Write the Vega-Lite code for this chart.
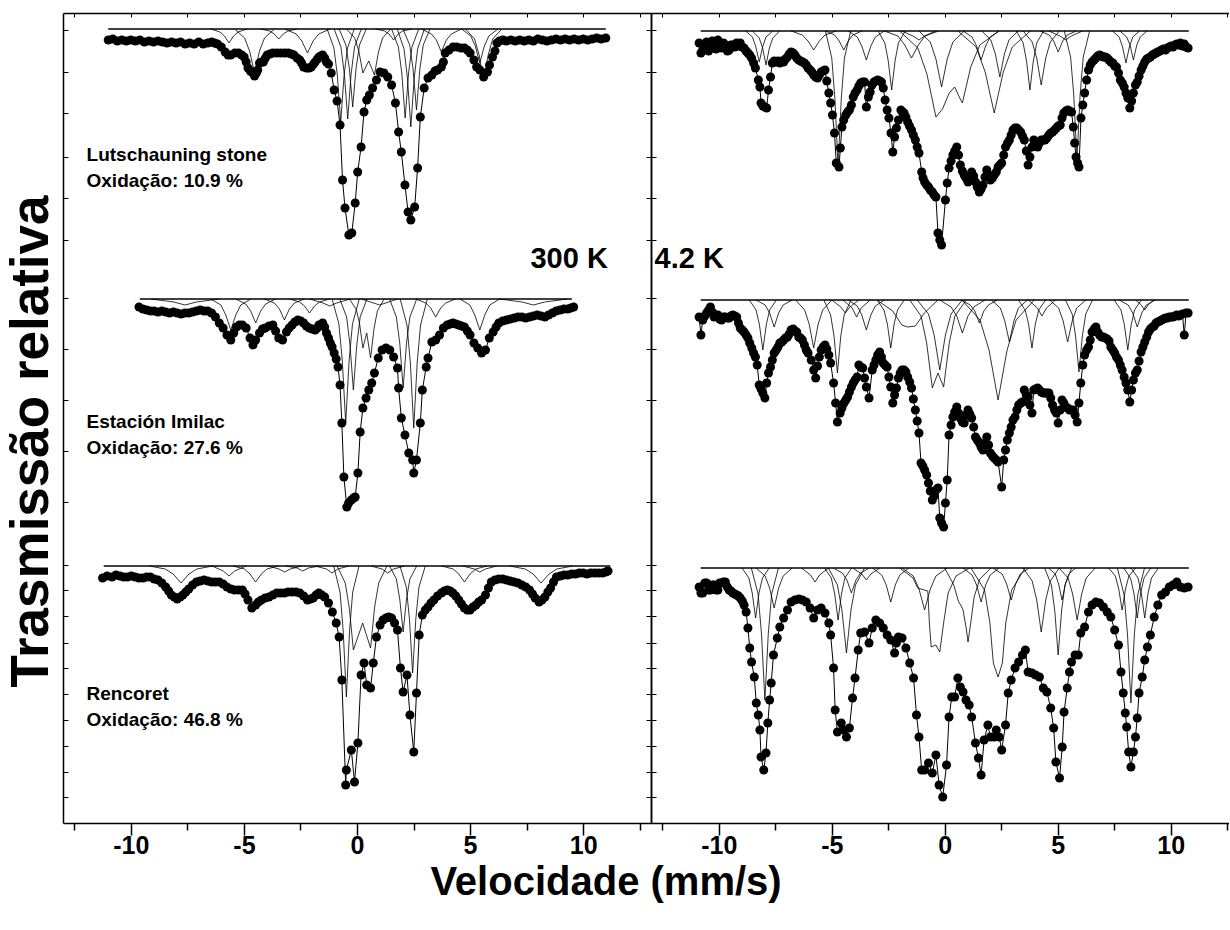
{
"$schema":"https://vega.github.io/schema/vega-lite/v6.json",
"background":"white",
"padding":{"left":4,"top":12,"right":0,"bottom":0},
"config":{"view":{"stroke":null},"axis":{"grid":false}},
"title":{"text":"Velocidade (mm/s)","orient":"bottom","anchor":"middle","fontSize":40,"font":"Liberation Sans","fontWeight":"bold","color":"black","offset":5,"dx":-11},
"spacing":0,
"bounds":"flush",
"datasets":{
"base":[
{"s":"L1","v":-11,"y":794},{"s":"L1","v":11,"y":794},
{"s":"L2","v":-9.6,"y":524},{"s":"L2","v":9.5,"y":524},
{"s":"L3","v":-11.2,"y":257},{"s":"L3","v":11.2,"y":257},
{"s":"R1","v":-10.8,"y":792},{"s":"R1","v":10.8,"y":792},
{"s":"R2","v":-10.8,"y":523},{"s":"R2","v":10.8,"y":523},
{"s":"R3","v":-10.8,"y":255},{"s":"R3","v":10.8,"y":255}
],
"labels":[
{"p":"L","k":"n","v":-11.96,"y":662,"t":"Lutschauning stone"},
{"p":"L","k":"n","v":-11.96,"y":636,"t":"Oxidação: 10.9 %"},
{"p":"L","k":"n","v":-11.96,"y":395,"t":"Estación Imilac"},
{"p":"L","k":"n","v":-11.96,"y":369,"t":"Oxidação: 27.6 %"},
{"p":"L","k":"n","v":-11.96,"y":123,"t":"Rencoret"},
{"p":"L","k":"n","v":-11.96,"y":97,"t":"Oxidação: 46.8 %"},
{"p":"L","k":"t","v":7.67,"y":555,"t":"300 K"},
{"p":"R","k":"t","v":-12.84,"y":555,"t":"4.2 K"}
],
"dots":[
{"s":"L1","v":-11,"y":783},{"s":"L1","v":-10.8,"y":784},{"s":"L1","v":-10.6,"y":782},{"s":"L1","v":-10.4,"y":783},{"s":"L1","v":-10.2,"y":782},{"s":"L1","v":-10,"y":783},{"s":"L1","v":-9.8,"y":782},{"s":"L1","v":-9.6,"y":783},{"s":"L1","v":-9.4,"y":781},{"s":"L1","v":-9.2,"y":782},{"s":"L1","v":-9,"y":781},{"s":"L1","v":-8.8,"y":782},{"s":"L1","v":-8.6,"y":781},{"s":"L1","v":-8.4,"y":780},{"s":"L1","v":-8.2,"y":781},{"s":"L1","v":-8,"y":780},{"s":"L1","v":-7.8,"y":781},{"s":"L1","v":-7.6,"y":779},{"s":"L1","v":-7.4,"y":780},{"s":"L1","v":-7.2,"y":779},{"s":"L1","v":-7,"y":781},{"s":"L1","v":-6.8,"y":779},{"s":"L1","v":-6.6,"y":780},{"s":"L1","v":-6.43,"y":781},{"s":"L1","v":-6.3,"y":780},{"s":"L1","v":-6.17,"y":779},{"s":"L1","v":-6,"y":776},{"s":"L1","v":-5.83,"y":771},{"s":"L1","v":-5.7,"y":768},{"s":"L1","v":-5.58,"y":768},{"s":"L1","v":-5.4,"y":770},{"s":"L1","v":-5.24,"y":770},{"s":"L1","v":-5.1,"y":768},{"s":"L1","v":-4.99,"y":766},{"s":"L1","v":-4.9,"y":761},{"s":"L1","v":-4.82,"y":755},{"s":"L1","v":-4.72,"y":752},{"s":"L1","v":-4.65,"y":751},{"s":"L1","v":-4.53,"y":747},{"s":"L1","v":-4.45,"y":750},{"s":"L1","v":-4.39,"y":753},{"s":"L1","v":-4.31,"y":760},{"s":"L1","v":-4.22,"y":761},{"s":"L1","v":-4.14,"y":761},{"s":"L1","v":-4.05,"y":765},{"s":"L1","v":-3.97,"y":768},{"s":"L1","v":-3.85,"y":769},{"s":"L1","v":-3.72,"y":770},{"s":"L1","v":-3.55,"y":770},{"s":"L1","v":-3.38,"y":770},{"s":"L1","v":-3.2,"y":770},{"s":"L1","v":-3.04,"y":770},{"s":"L1","v":-2.9,"y":769},{"s":"L1","v":-2.79,"y":768},{"s":"L1","v":-2.65,"y":765},{"s":"L1","v":-2.53,"y":763},{"s":"L1","v":-2.45,"y":760},{"s":"L1","v":-2.36,"y":756},{"s":"L1","v":-2.23,"y":755},{"s":"L1","v":-2.12,"y":755},{"s":"L1","v":-2.02,"y":756},{"s":"L1","v":-1.92,"y":759},{"s":"L1","v":-1.85,"y":761},{"s":"L1","v":-1.75,"y":764},{"s":"L1","v":-1.68,"y":766},{"s":"L1","v":-1.6,"y":767},{"s":"L1","v":-1.52,"y":768},{"s":"L1","v":-1.43,"y":765},{"s":"L1","v":-1.35,"y":761},{"s":"L1","v":-1.26,"y":759},{"s":"L1","v":-1.14,"y":750},{"s":"L1","v":-1.01,"y":733},{"s":"L1","v":-0.88,"y":722},{"s":"L1","v":-0.75,"y":698},{"s":"L1","v":-0.64,"y":643},{"s":"L1","v":-0.53,"y":615},{"s":"L1","v":-0.36,"y":588},{"s":"L1","v":-0.23,"y":590},{"s":"L1","v":-0.08,"y":620},{"s":"L1","v":0.03,"y":651},{"s":"L1","v":0.18,"y":676},{"s":"L1","v":0.31,"y":711},{"s":"L1","v":0.43,"y":723},{"s":"L1","v":0.55,"y":728},{"s":"L1","v":0.69,"y":735},{"s":"L1","v":0.86,"y":743},{"s":"L1","v":1.02,"y":751},{"s":"L1","v":1.19,"y":750},{"s":"L1","v":1.36,"y":746},{"s":"L1","v":1.53,"y":738},{"s":"L1","v":1.7,"y":720},{"s":"L1","v":1.84,"y":691},{"s":"L1","v":1.96,"y":671},{"s":"L1","v":2.12,"y":638},{"s":"L1","v":2.26,"y":611},{"s":"L1","v":2.38,"y":603},{"s":"L1","v":2.55,"y":616},{"s":"L1","v":2.68,"y":655},{"s":"L1","v":2.8,"y":706},{"s":"L1","v":2.97,"y":735},{"s":"L1","v":3.14,"y":745},{"s":"L1","v":3.31,"y":748},{"s":"L1","v":3.45,"y":752},{"s":"L1","v":3.56,"y":753},{"s":"L1","v":3.73,"y":756},{"s":"L1","v":3.82,"y":761},{"s":"L1","v":3.9,"y":770},{"s":"L1","v":4.07,"y":773},{"s":"L1","v":4.25,"y":776},{"s":"L1","v":4.41,"y":776},{"s":"L1","v":4.6,"y":775},{"s":"L1","v":4.75,"y":775},{"s":"L1","v":4.88,"y":773},{"s":"L1","v":5,"y":770},{"s":"L1","v":5.17,"y":763},{"s":"L1","v":5.29,"y":756},{"s":"L1","v":5.43,"y":753},{"s":"L1","v":5.6,"y":746},{"s":"L1","v":5.77,"y":751},{"s":"L1","v":5.86,"y":758},{"s":"L1","v":5.99,"y":766},{"s":"L1","v":6.1,"y":772},{"s":"L1","v":6.19,"y":780},{"s":"L1","v":6.3,"y":782},{"s":"L1","v":6.45,"y":783},{"s":"L1","v":6.6,"y":782},{"s":"L1","v":6.8,"y":783},{"s":"L1","v":7,"y":782},{"s":"L1","v":7.2,"y":783},{"s":"L1","v":7.4,"y":782},{"s":"L1","v":7.6,"y":783},{"s":"L1","v":7.8,"y":782},{"s":"L1","v":8,"y":784},{"s":"L1","v":8.2,"y":783},{"s":"L1","v":8.4,"y":782},{"s":"L1","v":8.6,"y":783},{"s":"L1","v":8.8,"y":784},{"s":"L1","v":9,"y":783},{"s":"L1","v":9.2,"y":784},{"s":"L1","v":9.4,"y":783},{"s":"L1","v":9.6,"y":784},{"s":"L1","v":9.8,"y":783},{"s":"L1","v":10,"y":784},{"s":"L1","v":10.2,"y":783},{"s":"L1","v":10.4,"y":784},{"s":"L1","v":10.6,"y":785},{"s":"L1","v":10.8,"y":784},{"s":"L1","v":11,"y":785},
{"s":"L2","v":-9.64,"y":516},{"s":"L2","v":-9.47,"y":514},{"s":"L2","v":-9.3,"y":513},{"s":"L2","v":-9.13,"y":512},{"s":"L2","v":-8.97,"y":512},{"s":"L2","v":-8.8,"y":511},{"s":"L2","v":-8.63,"y":512},{"s":"L2","v":-8.46,"y":511},{"s":"L2","v":-8.29,"y":510},{"s":"L2","v":-8.12,"y":511},{"s":"L2","v":-7.95,"y":510},{"s":"L2","v":-7.78,"y":509},{"s":"L2","v":-7.61,"y":510},{"s":"L2","v":-7.44,"y":510},{"s":"L2","v":-7.27,"y":511},{"s":"L2","v":-7.1,"y":512},{"s":"L2","v":-6.93,"y":513},{"s":"L2","v":-6.76,"y":512},{"s":"L2","v":-6.6,"y":512},{"s":"L2","v":-6.43,"y":510},{"s":"L2","v":-6.26,"y":506},{"s":"L2","v":-6.09,"y":500},{"s":"L2","v":-5.92,"y":495},{"s":"L2","v":-5.75,"y":488},{"s":"L2","v":-5.58,"y":483},{"s":"L2","v":-5.45,"y":490},{"s":"L2","v":-5.33,"y":496},{"s":"L2","v":-5.2,"y":498},{"s":"L2","v":-5.07,"y":498},{"s":"L2","v":-4.9,"y":495},{"s":"L2","v":-4.73,"y":485},{"s":"L2","v":-4.6,"y":478},{"s":"L2","v":-4.48,"y":483},{"s":"L2","v":-4.31,"y":490},{"s":"L2","v":-4.18,"y":494},{"s":"L2","v":-4.06,"y":495},{"s":"L2","v":-3.89,"y":497},{"s":"L2","v":-3.72,"y":498},{"s":"L2","v":-3.6,"y":492},{"s":"L2","v":-3.46,"y":485},{"s":"L2","v":-3.29,"y":483},{"s":"L2","v":-3.12,"y":491},{"s":"L2","v":-3,"y":495},{"s":"L2","v":-2.87,"y":498},{"s":"L2","v":-2.75,"y":501},{"s":"L2","v":-2.62,"y":503},{"s":"L2","v":-2.49,"y":502},{"s":"L2","v":-2.36,"y":500},{"s":"L2","v":-2.24,"y":497},{"s":"L2","v":-2.11,"y":495},{"s":"L2","v":-1.98,"y":494},{"s":"L2","v":-1.85,"y":493},{"s":"L2","v":-1.76,"y":495},{"s":"L2","v":-1.68,"y":498},{"s":"L2","v":-1.52,"y":500},{"s":"L2","v":-1.43,"y":496},{"s":"L2","v":-1.35,"y":490},{"s":"L2","v":-1.26,"y":485},{"s":"L2","v":-1.18,"y":480},{"s":"L2","v":-1.1,"y":476},{"s":"L2","v":-1.01,"y":470},{"s":"L2","v":-0.92,"y":464},{"s":"L2","v":-0.84,"y":456},{"s":"L2","v":-0.75,"y":438},{"s":"L2","v":-0.67,"y":400},{"s":"L2","v":-0.58,"y":346},{"s":"L2","v":-0.45,"y":316},{"s":"L2","v":-0.37,"y":320},{"s":"L2","v":-0.25,"y":323},{"s":"L2","v":-0.15,"y":325},{"s":"L2","v":-0.08,"y":326},{"s":"L2","v":0.04,"y":350},{"s":"L2","v":0.14,"y":391},{"s":"L2","v":0.26,"y":415},{"s":"L2","v":0.4,"y":425},{"s":"L2","v":0.52,"y":433},{"s":"L2","v":0.65,"y":440},{"s":"L2","v":0.77,"y":450},{"s":"L2","v":0.94,"y":465},{"s":"L2","v":1.11,"y":473},{"s":"L2","v":1.28,"y":475},{"s":"L2","v":1.45,"y":473},{"s":"L2","v":1.62,"y":466},{"s":"L2","v":1.79,"y":455},{"s":"L2","v":1.84,"y":435},{"s":"L2","v":1.96,"y":405},{"s":"L2","v":2.12,"y":388},{"s":"L2","v":2.29,"y":370},{"s":"L2","v":2.46,"y":363},{"s":"L2","v":2.51,"y":350},{"s":"L2","v":2.63,"y":363},{"s":"L2","v":2.8,"y":400},{"s":"L2","v":2.89,"y":433},{"s":"L2","v":3.06,"y":456},{"s":"L2","v":3.14,"y":465},{"s":"L2","v":3.31,"y":481},{"s":"L2","v":3.48,"y":483},{"s":"L2","v":3.65,"y":488},{"s":"L2","v":3.82,"y":495},{"s":"L2","v":3.99,"y":498},{"s":"L2","v":4.12,"y":499},{"s":"L2","v":4.24,"y":500},{"s":"L2","v":4.37,"y":499},{"s":"L2","v":4.5,"y":498},{"s":"L2","v":4.62,"y":497},{"s":"L2","v":4.75,"y":496},{"s":"L2","v":4.88,"y":492},{"s":"L2","v":5,"y":488},{"s":"L2","v":5.17,"y":480},{"s":"L2","v":5.34,"y":475},{"s":"L2","v":5.51,"y":470},{"s":"L2","v":5.68,"y":473},{"s":"L2","v":5.85,"y":485},{"s":"L2","v":6.02,"y":491},{"s":"L2","v":6.15,"y":496},{"s":"L2","v":6.27,"y":500},{"s":"L2","v":6.44,"y":502},{"s":"L2","v":6.61,"y":503},{"s":"L2","v":6.78,"y":504},{"s":"L2","v":6.95,"y":505},{"s":"L2","v":7.12,"y":506},{"s":"L2","v":7.29,"y":506},{"s":"L2","v":7.46,"y":505},{"s":"L2","v":7.63,"y":506},{"s":"L2","v":7.8,"y":507},{"s":"L2","v":7.97,"y":508},{"s":"L2","v":8.14,"y":507},{"s":"L2","v":8.31,"y":506},{"s":"L2","v":8.47,"y":508},{"s":"L2","v":8.64,"y":510},{"s":"L2","v":8.81,"y":512},{"s":"L2","v":8.98,"y":513},{"s":"L2","v":9.15,"y":514},{"s":"L2","v":9.32,"y":514},{"s":"L2","v":9.45,"y":515},{"s":"L2","v":9.58,"y":516},
{"s":"L3","v":-11.25,"y":245},{"s":"L3","v":-11.05,"y":247},{"s":"L3","v":-10.83,"y":246},{"s":"L3","v":-10.66,"y":248},{"s":"L3","v":-10.49,"y":247},{"s":"L3","v":-10.32,"y":246},{"s":"L3","v":-10.15,"y":246},{"s":"L3","v":-9.98,"y":247},{"s":"L3","v":-9.81,"y":246},{"s":"L3","v":-9.64,"y":245},{"s":"L3","v":-9.47,"y":245},{"s":"L3","v":-9.3,"y":246},{"s":"L3","v":-9.14,"y":246},{"s":"L3","v":-8.97,"y":244},{"s":"L3","v":-8.8,"y":243},{"s":"L3","v":-8.63,"y":240},{"s":"L3","v":-8.46,"y":236},{"s":"L3","v":-8.33,"y":232},{"s":"L3","v":-8.21,"y":228},{"s":"L3","v":-8.08,"y":226},{"s":"L3","v":-7.95,"y":224},{"s":"L3","v":-7.82,"y":226},{"s":"L3","v":-7.7,"y":228},{"s":"L3","v":-7.57,"y":231},{"s":"L3","v":-7.44,"y":234},{"s":"L3","v":-7.27,"y":238},{"s":"L3","v":-7.1,"y":241},{"s":"L3","v":-6.94,"y":242},{"s":"L3","v":-6.77,"y":243},{"s":"L3","v":-6.6,"y":242},{"s":"L3","v":-6.43,"y":241},{"s":"L3","v":-6.26,"y":241},{"s":"L3","v":-6.09,"y":241},{"s":"L3","v":-5.92,"y":239},{"s":"L3","v":-5.75,"y":236},{"s":"L3","v":-5.58,"y":234},{"s":"L3","v":-5.41,"y":233},{"s":"L3","v":-5.24,"y":233},{"s":"L3","v":-5.07,"y":233},{"s":"L3","v":-4.95,"y":229},{"s":"L3","v":-4.82,"y":223},{"s":"L3","v":-4.65,"y":215},{"s":"L3","v":-4.48,"y":218},{"s":"L3","v":-4.36,"y":221},{"s":"L3","v":-4.23,"y":223},{"s":"L3","v":-4.06,"y":225},{"s":"L3","v":-3.89,"y":226},{"s":"L3","v":-3.72,"y":228},{"s":"L3","v":-3.55,"y":230},{"s":"L3","v":-3.38,"y":230},{"s":"L3","v":-3.21,"y":230},{"s":"L3","v":-3.04,"y":231},{"s":"L3","v":-2.87,"y":231},{"s":"L3","v":-2.7,"y":231},{"s":"L3","v":-2.53,"y":230},{"s":"L3","v":-2.36,"y":227},{"s":"L3","v":-2.19,"y":223},{"s":"L3","v":-2.06,"y":224},{"s":"L3","v":-1.94,"y":225},{"s":"L3","v":-1.81,"y":228},{"s":"L3","v":-1.69,"y":230},{"s":"L3","v":-1.56,"y":228},{"s":"L3","v":-1.43,"y":226},{"s":"L3","v":-1.26,"y":220},{"s":"L3","v":-1.09,"y":211},{"s":"L3","v":-0.92,"y":200},{"s":"L3","v":-0.79,"y":186},{"s":"L3","v":-0.67,"y":143},{"s":"L3","v":-0.5,"y":38},{"s":"L3","v":-0.47,"y":53},{"s":"L3","v":-0.25,"y":73},{"s":"L3","v":-0.11,"y":41},{"s":"L3","v":0.04,"y":80},{"s":"L3","v":0.18,"y":148},{"s":"L3","v":0.31,"y":160},{"s":"L3","v":0.43,"y":138},{"s":"L3","v":0.6,"y":135},{"s":"L3","v":0.72,"y":160},{"s":"L3","v":0.86,"y":186},{"s":"L3","v":1.02,"y":198},{"s":"L3","v":1.15,"y":203},{"s":"L3","v":1.28,"y":205},{"s":"L3","v":1.4,"y":206},{"s":"L3","v":1.53,"y":205},{"s":"L3","v":1.66,"y":200},{"s":"L3","v":1.79,"y":193},{"s":"L3","v":1.92,"y":155},{"s":"L3","v":2.04,"y":131},{"s":"L3","v":2.21,"y":148},{"s":"L3","v":2.34,"y":108},{"s":"L3","v":2.51,"y":71},{"s":"L3","v":2.63,"y":130},{"s":"L3","v":2.75,"y":188},{"s":"L3","v":2.89,"y":208},{"s":"L3","v":3.02,"y":213},{"s":"L3","v":3.14,"y":216},{"s":"L3","v":3.27,"y":220},{"s":"L3","v":3.4,"y":223},{"s":"L3","v":3.56,"y":227},{"s":"L3","v":3.73,"y":230},{"s":"L3","v":3.86,"y":232},{"s":"L3","v":3.99,"y":233},{"s":"L3","v":4.12,"y":232},{"s":"L3","v":4.24,"y":230},{"s":"L3","v":4.37,"y":227},{"s":"L3","v":4.5,"y":223},{"s":"L3","v":4.62,"y":219},{"s":"L3","v":4.75,"y":215},{"s":"L3","v":4.88,"y":213},{"s":"L3","v":5,"y":213},{"s":"L3","v":5.13,"y":216},{"s":"L3","v":5.26,"y":218},{"s":"L3","v":5.38,"y":221},{"s":"L3","v":5.51,"y":223},{"s":"L3","v":5.68,"y":228},{"s":"L3","v":5.81,"y":235},{"s":"L3","v":5.94,"y":241},{"s":"L3","v":6.1,"y":243},{"s":"L3","v":6.27,"y":244},{"s":"L3","v":6.44,"y":244},{"s":"L3","v":6.61,"y":243},{"s":"L3","v":6.78,"y":242},{"s":"L3","v":6.95,"y":241},{"s":"L3","v":7.12,"y":240},{"s":"L3","v":7.29,"y":238},{"s":"L3","v":7.46,"y":236},{"s":"L3","v":7.63,"y":233},{"s":"L3","v":7.76,"y":229},{"s":"L3","v":7.88,"y":225},{"s":"L3","v":8.05,"y":221},{"s":"L3","v":8.18,"y":223},{"s":"L3","v":8.31,"y":226},{"s":"L3","v":8.44,"y":231},{"s":"L3","v":8.56,"y":235},{"s":"L3","v":8.69,"y":241},{"s":"L3","v":8.82,"y":246},{"s":"L3","v":8.99,"y":247},{"s":"L3","v":9.15,"y":248},{"s":"L3","v":9.32,"y":248},{"s":"L3","v":9.49,"y":249},{"s":"L3","v":9.66,"y":249},{"s":"L3","v":9.83,"y":250},{"s":"L3","v":10,"y":250},{"s":"L3","v":10.17,"y":249},{"s":"L3","v":10.34,"y":250},{"s":"L3","v":10.51,"y":250},{"s":"L3","v":10.68,"y":250},{"s":"L3","v":10.85,"y":250},{"s":"L3","v":11,"y":251},{"s":"L3","v":11.1,"y":252},
{"s":"R1","v":-10.87,"y":780},{"s":"R1","v":-10.79,"y":770},{"s":"R1","v":-10.71,"y":773},{"s":"R1","v":-10.62,"y":778},{"s":"R1","v":-10.54,"y":781},{"s":"R1","v":-10.45,"y":772},{"s":"R1","v":-10.37,"y":776},{"s":"R1","v":-10.29,"y":782},{"s":"R1","v":-10.21,"y":781},{"s":"R1","v":-10.12,"y":774},{"s":"R1","v":-10.04,"y":783},{"s":"R1","v":-9.96,"y":779},{"s":"R1","v":-9.88,"y":775},{"s":"R1","v":-9.79,"y":780},{"s":"R1","v":-9.71,"y":778},{"s":"R1","v":-9.62,"y":772},{"s":"R1","v":-9.54,"y":773},{"s":"R1","v":-9.46,"y":778},{"s":"R1","v":-9.38,"y":778},{"s":"R1","v":-9.29,"y":776},{"s":"R1","v":-9.21,"y":780},{"s":"R1","v":-9.13,"y":777},{"s":"R1","v":-9.05,"y":780},{"s":"R1","v":-8.96,"y":776},{"s":"R1","v":-8.88,"y":775},{"s":"R1","v":-8.79,"y":772},{"s":"R1","v":-8.71,"y":770},{"s":"R1","v":-8.63,"y":768},{"s":"R1","v":-8.55,"y":765},{"s":"R1","v":-8.46,"y":760},{"s":"R1","v":-8.38,"y":755},{"s":"R1","v":-8.25,"y":743},{"s":"R1","v":-8.18,"y":736},{"s":"R1","v":-8.13,"y":720},{"s":"R1","v":-8.05,"y":717},{"s":"R1","v":-7.96,"y":716},{"s":"R1","v":-7.88,"y":715},{"s":"R1","v":-7.8,"y":733},{"s":"R1","v":-7.71,"y":746},{"s":"R1","v":-7.63,"y":760},{"s":"R1","v":-7.55,"y":762},{"s":"R1","v":-7.46,"y":761},{"s":"R1","v":-7.38,"y":762},{"s":"R1","v":-7.3,"y":760},{"s":"R1","v":-7.21,"y":762},{"s":"R1","v":-7.13,"y":761},{"s":"R1","v":-7.05,"y":764},{"s":"R1","v":-6.96,"y":766},{"s":"R1","v":-6.88,"y":769},{"s":"R1","v":-6.8,"y":771},{"s":"R1","v":-6.71,"y":770},{"s":"R1","v":-6.63,"y":768},{"s":"R1","v":-6.55,"y":765},{"s":"R1","v":-6.46,"y":763},{"s":"R1","v":-6.38,"y":762},{"s":"R1","v":-6.3,"y":761},{"s":"R1","v":-6.21,"y":760},{"s":"R1","v":-6.13,"y":758},{"s":"R1","v":-6.05,"y":755},{"s":"R1","v":-5.96,"y":753},{"s":"R1","v":-5.88,"y":751},{"s":"R1","v":-5.8,"y":748},{"s":"R1","v":-5.71,"y":746},{"s":"R1","v":-5.63,"y":745},{"s":"R1","v":-5.55,"y":748},{"s":"R1","v":-5.47,"y":751},{"s":"R1","v":-5.38,"y":752},{"s":"R1","v":-5.3,"y":753},{"s":"R1","v":-5.22,"y":742},{"s":"R1","v":-5.13,"y":730},{"s":"R1","v":-5.05,"y":720},{"s":"R1","v":-4.97,"y":708},{"s":"R1","v":-4.88,"y":690},{"s":"R1","v":-4.8,"y":660},{"s":"R1","v":-4.68,"y":656},{"s":"R1","v":-4.62,"y":675},{"s":"R1","v":-4.55,"y":696},{"s":"R1","v":-4.47,"y":703},{"s":"R1","v":-4.38,"y":708},{"s":"R1","v":-4.3,"y":711},{"s":"R1","v":-4.22,"y":713},{"s":"R1","v":-4.13,"y":718},{"s":"R1","v":-4.05,"y":726},{"s":"R1","v":-3.97,"y":730},{"s":"R1","v":-3.88,"y":733},{"s":"R1","v":-3.8,"y":737},{"s":"R1","v":-3.72,"y":740},{"s":"R1","v":-3.63,"y":741},{"s":"R1","v":-3.55,"y":741},{"s":"R1","v":-3.47,"y":716},{"s":"R1","v":-3.38,"y":726},{"s":"R1","v":-3.3,"y":731},{"s":"R1","v":-3.22,"y":738},{"s":"R1","v":-3.13,"y":741},{"s":"R1","v":-3.05,"y":742},{"s":"R1","v":-2.97,"y":743},{"s":"R1","v":-2.88,"y":742},{"s":"R1","v":-2.8,"y":741},{"s":"R1","v":-2.72,"y":735},{"s":"R1","v":-2.64,"y":723},{"s":"R1","v":-2.55,"y":713},{"s":"R1","v":-2.47,"y":705},{"s":"R1","v":-2.38,"y":690},{"s":"R1","v":-2.3,"y":671},{"s":"R1","v":-2.22,"y":686},{"s":"R1","v":-2.14,"y":695},{"s":"R1","v":-2.05,"y":703},{"s":"R1","v":-1.94,"y":713},{"s":"R1","v":-1.87,"y":711},{"s":"R1","v":-1.8,"y":710},{"s":"R1","v":-1.72,"y":706},{"s":"R1","v":-1.64,"y":701},{"s":"R1","v":-1.56,"y":697},{"s":"R1","v":-1.47,"y":693},{"s":"R1","v":-1.39,"y":688},{"s":"R1","v":-1.3,"y":683},{"s":"R1","v":-1.22,"y":676},{"s":"R1","v":-1.14,"y":670},{"s":"R1","v":-1.02,"y":651},{"s":"R1","v":-0.96,"y":645},{"s":"R1","v":-0.89,"y":641},{"s":"R1","v":-0.8,"y":638},{"s":"R1","v":-0.72,"y":636},{"s":"R1","v":-0.64,"y":633},{"s":"R1","v":-0.55,"y":631},{"s":"R1","v":-0.47,"y":628},{"s":"R1","v":-0.39,"y":626},{"s":"R1","v":-0.3,"y":590},{"s":"R1","v":-0.22,"y":583},{"s":"R1","v":-0.14,"y":578},{"s":"R1","v":0.03,"y":623},{"s":"R1","v":0.11,"y":640},{"s":"R1","v":0.19,"y":655},{"s":"R1","v":0.28,"y":662},{"s":"R1","v":0.36,"y":668},{"s":"R1","v":0.44,"y":672},{"s":"R1","v":0.53,"y":676},{"s":"R1","v":0.61,"y":668},{"s":"R1","v":0.69,"y":658},{"s":"R1","v":0.78,"y":652},{"s":"R1","v":0.86,"y":648},{"s":"R1","v":0.94,"y":645},{"s":"R1","v":1.03,"y":641},{"s":"R1","v":1.11,"y":646},{"s":"R1","v":1.19,"y":651},{"s":"R1","v":1.28,"y":647},{"s":"R1","v":1.36,"y":641},{"s":"R1","v":1.44,"y":636},{"s":"R1","v":1.53,"y":631},{"s":"R1","v":1.61,"y":634},{"s":"R1","v":1.69,"y":638},{"s":"R1","v":1.78,"y":646},{"s":"R1","v":1.86,"y":653},{"s":"R1","v":1.94,"y":648},{"s":"R1","v":2.02,"y":643},{"s":"R1","v":2.11,"y":645},{"s":"R1","v":2.19,"y":648},{"s":"R1","v":2.28,"y":651},{"s":"R1","v":2.36,"y":656},{"s":"R1","v":2.44,"y":658},{"s":"R1","v":2.52,"y":660},{"s":"R1","v":2.61,"y":668},{"s":"R1","v":2.69,"y":676},{"s":"R1","v":2.78,"y":680},{"s":"R1","v":2.86,"y":683},{"s":"R1","v":2.94,"y":688},{"s":"R1","v":3.02,"y":693},{"s":"R1","v":3.11,"y":695},{"s":"R1","v":3.19,"y":695},{"s":"R1","v":3.27,"y":693},{"s":"R1","v":3.36,"y":691},{"s":"R1","v":3.44,"y":687},{"s":"R1","v":3.52,"y":683},{"s":"R1","v":3.61,"y":672},{"s":"R1","v":3.69,"y":658},{"s":"R1","v":3.77,"y":666},{"s":"R1","v":3.86,"y":676},{"s":"R1","v":3.94,"y":683},{"s":"R1","v":4.02,"y":680},{"s":"R1","v":4.11,"y":676},{"s":"R1","v":4.19,"y":680},{"s":"R1","v":4.27,"y":683},{"s":"R1","v":4.36,"y":683},{"s":"R1","v":4.44,"y":683},{"s":"R1","v":4.52,"y":685},{"s":"R1","v":4.61,"y":688},{"s":"R1","v":4.69,"y":690},{"s":"R1","v":4.77,"y":691},{"s":"R1","v":4.86,"y":693},{"s":"R1","v":4.94,"y":695},{"s":"R1","v":5.02,"y":697},{"s":"R1","v":5.11,"y":698},{"s":"R1","v":5.19,"y":705},{"s":"R1","v":5.27,"y":710},{"s":"R1","v":5.36,"y":712},{"s":"R1","v":5.44,"y":713},{"s":"R1","v":5.52,"y":712},{"s":"R1","v":5.61,"y":711},{"s":"R1","v":5.69,"y":696},{"s":"R1","v":5.75,"y":680},{"s":"R1","v":5.81,"y":666},{"s":"R1","v":5.88,"y":660},{"s":"R1","v":5.94,"y":656},{"s":"R1","v":6.03,"y":705},{"s":"R1","v":6.11,"y":718},{"s":"R1","v":6.19,"y":730},{"s":"R1","v":6.28,"y":743},{"s":"R1","v":6.36,"y":753},{"s":"R1","v":6.44,"y":758},{"s":"R1","v":6.52,"y":761},{"s":"R1","v":6.61,"y":763},{"s":"R1","v":6.69,"y":765},{"s":"R1","v":6.77,"y":767},{"s":"R1","v":6.85,"y":768},{"s":"R1","v":6.94,"y":767},{"s":"R1","v":7.02,"y":766},{"s":"R1","v":7.1,"y":766},{"s":"R1","v":7.19,"y":765},{"s":"R1","v":7.27,"y":763},{"s":"R1","v":7.35,"y":761},{"s":"R1","v":7.44,"y":760},{"s":"R1","v":7.52,"y":757},{"s":"R1","v":7.6,"y":756},{"s":"R1","v":7.69,"y":750},{"s":"R1","v":7.77,"y":743},{"s":"R1","v":7.86,"y":740},{"s":"R1","v":7.94,"y":736},{"s":"R1","v":8.02,"y":730},{"s":"R1","v":8.1,"y":725},{"s":"R1","v":8.19,"y":715},{"s":"R1","v":8.27,"y":722},{"s":"R1","v":8.35,"y":730},{"s":"R1","v":8.44,"y":738},{"s":"R1","v":8.52,"y":741},{"s":"R1","v":8.6,"y":747},{"s":"R1","v":8.69,"y":753},{"s":"R1","v":8.77,"y":757},{"s":"R1","v":8.85,"y":761},{"s":"R1","v":8.94,"y":764},{"s":"R1","v":9.02,"y":765},{"s":"R1","v":9.1,"y":766},{"s":"R1","v":9.19,"y":768},{"s":"R1","v":9.27,"y":769},{"s":"R1","v":9.35,"y":770},{"s":"R1","v":9.43,"y":771},{"s":"R1","v":9.52,"y":772},{"s":"R1","v":9.6,"y":773},{"s":"R1","v":9.68,"y":774},{"s":"R1","v":9.77,"y":773},{"s":"R1","v":9.85,"y":775},{"s":"R1","v":9.94,"y":776},{"s":"R1","v":10.02,"y":777},{"s":"R1","v":10.1,"y":776},{"s":"R1","v":10.19,"y":778},{"s":"R1","v":10.27,"y":779},{"s":"R1","v":10.35,"y":778},{"s":"R1","v":10.43,"y":780},{"s":"R1","v":10.52,"y":777},{"s":"R1","v":10.6,"y":779},{"s":"R1","v":10.68,"y":776},{"s":"R1","v":10.77,"y":775},
{"s":"R2","v":-10.87,"y":506},{"s":"R2","v":-10.79,"y":488},{"s":"R2","v":-10.71,"y":503},{"s":"R2","v":-10.62,"y":507},{"s":"R2","v":-10.54,"y":510},{"s":"R2","v":-10.45,"y":513},{"s":"R2","v":-10.37,"y":516},{"s":"R2","v":-10.29,"y":511},{"s":"R2","v":-10.21,"y":506},{"s":"R2","v":-10.12,"y":508},{"s":"R2","v":-10.04,"y":508},{"s":"R2","v":-9.96,"y":504},{"s":"R2","v":-9.88,"y":503},{"s":"R2","v":-9.79,"y":506},{"s":"R2","v":-9.71,"y":506},{"s":"R2","v":-9.62,"y":505},{"s":"R2","v":-9.54,"y":505},{"s":"R2","v":-9.46,"y":507},{"s":"R2","v":-9.38,"y":508},{"s":"R2","v":-9.29,"y":507},{"s":"R2","v":-9.21,"y":506},{"s":"R2","v":-9.13,"y":500},{"s":"R2","v":-9.05,"y":495},{"s":"R2","v":-8.96,"y":493},{"s":"R2","v":-8.88,"y":491},{"s":"R2","v":-8.79,"y":488},{"s":"R2","v":-8.71,"y":485},{"s":"R2","v":-8.63,"y":480},{"s":"R2","v":-8.54,"y":475},{"s":"R2","v":-8.46,"y":470},{"s":"R2","v":-8.38,"y":466},{"s":"R2","v":-8.3,"y":458},{"s":"R2","v":-8.21,"y":438},{"s":"R2","v":-8.13,"y":434},{"s":"R2","v":-8.05,"y":430},{"s":"R2","v":-7.96,"y":425},{"s":"R2","v":-7.88,"y":440},{"s":"R2","v":-7.8,"y":450},{"s":"R2","v":-7.71,"y":456},{"s":"R2","v":-7.63,"y":463},{"s":"R2","v":-7.55,"y":470},{"s":"R2","v":-7.46,"y":473},{"s":"R2","v":-7.38,"y":476},{"s":"R2","v":-7.3,"y":480},{"s":"R2","v":-7.21,"y":481},{"s":"R2","v":-7.13,"y":483},{"s":"R2","v":-7.05,"y":485},{"s":"R2","v":-6.96,"y":486},{"s":"R2","v":-6.88,"y":489},{"s":"R2","v":-6.8,"y":493},{"s":"R2","v":-6.71,"y":494},{"s":"R2","v":-6.63,"y":492},{"s":"R2","v":-6.55,"y":491},{"s":"R2","v":-6.46,"y":486},{"s":"R2","v":-6.38,"y":485},{"s":"R2","v":-6.3,"y":483},{"s":"R2","v":-6.21,"y":478},{"s":"R2","v":-6.13,"y":473},{"s":"R2","v":-6.05,"y":470},{"s":"R2","v":-5.91,"y":463},{"s":"R2","v":-5.8,"y":453},{"s":"R2","v":-5.71,"y":445},{"s":"R2","v":-5.63,"y":457},{"s":"R2","v":-5.55,"y":466},{"s":"R2","v":-5.47,"y":473},{"s":"R2","v":-5.38,"y":476},{"s":"R2","v":-5.3,"y":478},{"s":"R2","v":-5.22,"y":474},{"s":"R2","v":-5.13,"y":468},{"s":"R2","v":-5.05,"y":460},{"s":"R2","v":-4.92,"y":440},{"s":"R2","v":-4.83,"y":420},{"s":"R2","v":-4.75,"y":401},{"s":"R2","v":-4.63,"y":410},{"s":"R2","v":-4.55,"y":415},{"s":"R2","v":-4.46,"y":420},{"s":"R2","v":-4.38,"y":423},{"s":"R2","v":-4.3,"y":426},{"s":"R2","v":-4.22,"y":431},{"s":"R2","v":-4.13,"y":436},{"s":"R2","v":-4.05,"y":440},{"s":"R2","v":-3.97,"y":443},{"s":"R2","v":-3.88,"y":446},{"s":"R2","v":-3.8,"y":458},{"s":"R2","v":-3.72,"y":456},{"s":"R2","v":-3.63,"y":455},{"s":"R2","v":-3.55,"y":445},{"s":"R2","v":-3.47,"y":436},{"s":"R2","v":-3.35,"y":425},{"s":"R2","v":-3.21,"y":453},{"s":"R2","v":-3.13,"y":458},{"s":"R2","v":-3.05,"y":463},{"s":"R2","v":-2.97,"y":468},{"s":"R2","v":-2.88,"y":471},{"s":"R2","v":-2.8,"y":466},{"s":"R2","v":-2.72,"y":460},{"s":"R2","v":-2.64,"y":458},{"s":"R2","v":-2.55,"y":456},{"s":"R2","v":-2.47,"y":446},{"s":"R2","v":-2.39,"y":436},{"s":"R2","v":-2.3,"y":420},{"s":"R2","v":-2.22,"y":428},{"s":"R2","v":-2.14,"y":435},{"s":"R2","v":-2.05,"y":445},{"s":"R2","v":-1.97,"y":450},{"s":"R2","v":-1.89,"y":453},{"s":"R2","v":-1.8,"y":453},{"s":"R2","v":-1.72,"y":451},{"s":"R2","v":-1.64,"y":446},{"s":"R2","v":-1.55,"y":441},{"s":"R2","v":-1.47,"y":435},{"s":"R2","v":-1.39,"y":424},{"s":"R2","v":-1.3,"y":413},{"s":"R2","v":-1.22,"y":402},{"s":"R2","v":-1.14,"y":390},{"s":"R2","v":-1.05,"y":360},{"s":"R2","v":-0.97,"y":357},{"s":"R2","v":-0.89,"y":353},{"s":"R2","v":-0.8,"y":348},{"s":"R2","v":-0.72,"y":340},{"s":"R2","v":-0.64,"y":332},{"s":"R2","v":-0.55,"y":323},{"s":"R2","v":-0.47,"y":327},{"s":"R2","v":-0.39,"y":333},{"s":"R2","v":-0.3,"y":335},{"s":"R2","v":-0.22,"y":305},{"s":"R2","v":-0.14,"y":300},{"s":"R2","v":-0.05,"y":296},{"s":"R2","v":0.03,"y":320},{"s":"R2","v":0.11,"y":343},{"s":"R2","v":0.19,"y":388},{"s":"R2","v":0.28,"y":398},{"s":"R2","v":0.36,"y":406},{"s":"R2","v":0.44,"y":411},{"s":"R2","v":0.53,"y":416},{"s":"R2","v":0.61,"y":410},{"s":"R2","v":0.69,"y":405},{"s":"R2","v":0.78,"y":401},{"s":"R2","v":0.86,"y":400},{"s":"R2","v":0.94,"y":408},{"s":"R2","v":1.03,"y":413},{"s":"R2","v":1.11,"y":409},{"s":"R2","v":1.19,"y":405},{"s":"R2","v":1.28,"y":396},{"s":"R2","v":1.36,"y":386},{"s":"R2","v":1.44,"y":383},{"s":"R2","v":1.53,"y":380},{"s":"R2","v":1.61,"y":376},{"s":"R2","v":1.69,"y":373},{"s":"R2","v":1.78,"y":380},{"s":"R2","v":1.86,"y":386},{"s":"R2","v":1.94,"y":378},{"s":"R2","v":2.02,"y":370},{"s":"R2","v":2.11,"y":367},{"s":"R2","v":2.19,"y":365},{"s":"R2","v":2.28,"y":363},{"s":"R2","v":2.36,"y":361},{"s":"R2","v":2.52,"y":336},{"s":"R2","v":2.61,"y":363},{"s":"R2","v":2.69,"y":373},{"s":"R2","v":2.77,"y":383},{"s":"R2","v":2.86,"y":390},{"s":"R2","v":2.94,"y":396},{"s":"R2","v":3.02,"y":403},{"s":"R2","v":3.11,"y":406},{"s":"R2","v":3.19,"y":413},{"s":"R2","v":3.27,"y":418},{"s":"R2","v":3.36,"y":420},{"s":"R2","v":3.44,"y":421},{"s":"R2","v":3.52,"y":433},{"s":"R2","v":3.61,"y":428},{"s":"R2","v":3.69,"y":426},{"s":"R2","v":3.77,"y":418},{"s":"R2","v":3.86,"y":410},{"s":"R2","v":3.94,"y":433},{"s":"R2","v":4.02,"y":434},{"s":"R2","v":4.11,"y":435},{"s":"R2","v":4.19,"y":433},{"s":"R2","v":4.27,"y":431},{"s":"R2","v":4.36,"y":430},{"s":"R2","v":4.44,"y":430},{"s":"R2","v":4.52,"y":430},{"s":"R2","v":4.61,"y":430},{"s":"R2","v":4.69,"y":425},{"s":"R2","v":4.77,"y":418},{"s":"R2","v":4.86,"y":413},{"s":"R2","v":4.94,"y":410},{"s":"R2","v":5.02,"y":400},{"s":"R2","v":5.11,"y":413},{"s":"R2","v":5.19,"y":423},{"s":"R2","v":5.27,"y":420},{"s":"R2","v":5.36,"y":416},{"s":"R2","v":5.44,"y":415},{"s":"R2","v":5.52,"y":413},{"s":"R2","v":5.61,"y":413},{"s":"R2","v":5.69,"y":413},{"s":"R2","v":5.77,"y":408},{"s":"R2","v":5.86,"y":401},{"s":"R2","v":5.94,"y":420},{"s":"R2","v":6.02,"y":440},{"s":"R2","v":6.11,"y":458},{"s":"R2","v":6.19,"y":468},{"s":"R2","v":6.28,"y":473},{"s":"R2","v":6.36,"y":476},{"s":"R2","v":6.44,"y":483},{"s":"R2","v":6.52,"y":491},{"s":"R2","v":6.61,"y":494},{"s":"R2","v":6.69,"y":496},{"s":"R2","v":6.77,"y":491},{"s":"R2","v":6.85,"y":488},{"s":"R2","v":6.94,"y":486},{"s":"R2","v":7.02,"y":486},{"s":"R2","v":7.1,"y":485},{"s":"R2","v":7.19,"y":484},{"s":"R2","v":7.27,"y":482},{"s":"R2","v":7.35,"y":476},{"s":"R2","v":7.44,"y":473},{"s":"R2","v":7.52,"y":470},{"s":"R2","v":7.6,"y":466},{"s":"R2","v":7.69,"y":463},{"s":"R2","v":7.77,"y":458},{"s":"R2","v":7.85,"y":453},{"s":"R2","v":7.94,"y":446},{"s":"R2","v":8.02,"y":440},{"s":"R2","v":8.1,"y":433},{"s":"R2","v":8.19,"y":421},{"s":"R2","v":8.27,"y":433},{"s":"R2","v":8.35,"y":443},{"s":"R2","v":8.44,"y":450},{"s":"R2","v":8.52,"y":453},{"s":"R2","v":8.6,"y":462},{"s":"R2","v":8.69,"y":471},{"s":"R2","v":8.77,"y":476},{"s":"R2","v":8.85,"y":481},{"s":"R2","v":8.94,"y":486},{"s":"R2","v":9.02,"y":491},{"s":"R2","v":9.1,"y":494},{"s":"R2","v":9.19,"y":496},{"s":"R2","v":9.27,"y":497},{"s":"R2","v":9.35,"y":500},{"s":"R2","v":9.43,"y":501},{"s":"R2","v":9.52,"y":502},{"s":"R2","v":9.6,"y":503},{"s":"R2","v":9.68,"y":504},{"s":"R2","v":9.77,"y":505},{"s":"R2","v":9.85,"y":505},{"s":"R2","v":9.94,"y":506},{"s":"R2","v":10.02,"y":506},{"s":"R2","v":10.1,"y":506},{"s":"R2","v":10.19,"y":507},{"s":"R2","v":10.27,"y":508},{"s":"R2","v":10.35,"y":507},{"s":"R2","v":10.43,"y":508},{"s":"R2","v":10.52,"y":509},{"s":"R2","v":10.6,"y":488},{"s":"R2","v":10.68,"y":510},{"s":"R2","v":10.77,"y":510},
{"s":"R3","v":-10.87,"y":236},{"s":"R3","v":-10.79,"y":230},{"s":"R3","v":-10.71,"y":230},{"s":"R3","v":-10.62,"y":240},{"s":"R3","v":-10.54,"y":240},{"s":"R3","v":-10.45,"y":233},{"s":"R3","v":-10.37,"y":233},{"s":"R3","v":-10.29,"y":238},{"s":"R3","v":-10.21,"y":238},{"s":"R3","v":-10.12,"y":233},{"s":"R3","v":-10.04,"y":233},{"s":"R3","v":-9.96,"y":240},{"s":"R3","v":-9.88,"y":240},{"s":"R3","v":-9.79,"y":241},{"s":"R3","v":-9.71,"y":241},{"s":"R3","v":-9.62,"y":236},{"s":"R3","v":-9.54,"y":233},{"s":"R3","v":-9.46,"y":232},{"s":"R3","v":-9.38,"y":230},{"s":"R3","v":-9.29,"y":229},{"s":"R3","v":-9.21,"y":228},{"s":"R3","v":-9.13,"y":227},{"s":"R3","v":-9.05,"y":225},{"s":"R3","v":-8.96,"y":222},{"s":"R3","v":-8.88,"y":218},{"s":"R3","v":-8.79,"y":211},{"s":"R3","v":-8.71,"y":195},{"s":"R3","v":-8.63,"y":175},{"s":"R3","v":-8.55,"y":161},{"s":"R3","v":-8.43,"y":146},{"s":"R3","v":-8.34,"y":120},{"s":"R3","v":-8.25,"y":108},{"s":"R3","v":-8.18,"y":93},{"s":"R3","v":-8.13,"y":66},{"s":"R3","v":-8.01,"y":53},{"s":"R3","v":-7.91,"y":70},{"s":"R3","v":-7.83,"y":100},{"s":"R3","v":-7.75,"y":123},{"s":"R3","v":-7.68,"y":140},{"s":"R3","v":-7.58,"y":168},{"s":"R3","v":-7.41,"y":185},{"s":"R3","v":-7.3,"y":196},{"s":"R3","v":-7.13,"y":205},{"s":"R3","v":-6.96,"y":213},{"s":"R3","v":-6.8,"y":221},{"s":"R3","v":-6.63,"y":223},{"s":"R3","v":-6.46,"y":224},{"s":"R3","v":-6.3,"y":223},{"s":"R3","v":-6.13,"y":221},{"s":"R3","v":-5.96,"y":215},{"s":"R3","v":-5.8,"y":205},{"s":"R3","v":-5.63,"y":213},{"s":"R3","v":-5.47,"y":215},{"s":"R3","v":-5.3,"y":210},{"s":"R3","v":-5.13,"y":200},{"s":"R3","v":-5.05,"y":188},{"s":"R3","v":-4.92,"y":155},{"s":"R3","v":-4.85,"y":113},{"s":"R3","v":-4.75,"y":91},{"s":"R3","v":-4.58,"y":100},{"s":"R3","v":-4.47,"y":93},{"s":"R3","v":-4.35,"y":86},{"s":"R3","v":-4.22,"y":95},{"s":"R3","v":-4.08,"y":125},{"s":"R3","v":-3.97,"y":145},{"s":"R3","v":-3.83,"y":173},{"s":"R3","v":-3.72,"y":190},{"s":"R3","v":-3.55,"y":191},{"s":"R3","v":-3.35,"y":180},{"s":"R3","v":-3.21,"y":195},{"s":"R3","v":-3.05,"y":203},{"s":"R3","v":-2.88,"y":200},{"s":"R3","v":-2.72,"y":195},{"s":"R3","v":-2.55,"y":188},{"s":"R3","v":-2.39,"y":183},{"s":"R3","v":-2.22,"y":170},{"s":"R3","v":-2.14,"y":180},{"s":"R3","v":-2.05,"y":186},{"s":"R3","v":-1.89,"y":185},{"s":"R3","v":-1.72,"y":175},{"s":"R3","v":-1.55,"y":160},{"s":"R3","v":-1.38,"y":145},{"s":"R3","v":-1.25,"y":108},{"s":"R3","v":-1.14,"y":86},{"s":"R3","v":-1.02,"y":53},{"s":"R3","v":-0.89,"y":53},{"s":"R3","v":-0.72,"y":60},{"s":"R3","v":-0.55,"y":50},{"s":"R3","v":-0.39,"y":68},{"s":"R3","v":-0.25,"y":38},{"s":"R3","v":-0.09,"y":26},{"s":"R3","v":0.08,"y":58},{"s":"R3","v":0.19,"y":106},{"s":"R3","v":0.31,"y":126},{"s":"R3","v":0.44,"y":126},{"s":"R3","v":0.58,"y":145},{"s":"R3","v":0.69,"y":136},{"s":"R3","v":0.81,"y":131},{"s":"R3","v":0.94,"y":123},{"s":"R3","v":1.08,"y":118},{"s":"R3","v":1.19,"y":106},{"s":"R3","v":1.36,"y":80},{"s":"R3","v":1.49,"y":65},{"s":"R3","v":1.61,"y":48},{"s":"R3","v":1.74,"y":83},{"s":"R3","v":1.91,"y":98},{"s":"R3","v":2.02,"y":86},{"s":"R3","v":2.19,"y":86},{"s":"R3","v":2.28,"y":93},{"s":"R3","v":2.41,"y":86},{"s":"R3","v":2.52,"y":73},{"s":"R3","v":2.69,"y":98},{"s":"R3","v":2.81,"y":130},{"s":"R3","v":2.94,"y":143},{"s":"R3","v":3.11,"y":155},{"s":"R3","v":3.27,"y":161},{"s":"R3","v":3.44,"y":168},{"s":"R3","v":3.57,"y":173},{"s":"R3","v":3.69,"y":151},{"s":"R3","v":3.86,"y":150},{"s":"R3","v":4.02,"y":148},{"s":"R3","v":4.19,"y":146},{"s":"R3","v":4.36,"y":135},{"s":"R3","v":4.52,"y":131},{"s":"R3","v":4.69,"y":115},{"s":"R3","v":4.82,"y":95},{"s":"R3","v":4.92,"y":61},{"s":"R3","v":5.08,"y":45},{"s":"R3","v":5.2,"y":76},{"s":"R3","v":5.28,"y":111},{"s":"R3","v":5.42,"y":135},{"s":"R3","v":5.52,"y":151},{"s":"R3","v":5.61,"y":161},{"s":"R3","v":5.77,"y":168},{"s":"R3","v":5.91,"y":168},{"s":"R3","v":6.02,"y":190},{"s":"R3","v":6.19,"y":196},{"s":"R3","v":6.36,"y":211},{"s":"R3","v":6.52,"y":218},{"s":"R3","v":6.69,"y":221},{"s":"R3","v":6.85,"y":220},{"s":"R3","v":7.02,"y":216},{"s":"R3","v":7.19,"y":211},{"s":"R3","v":7.35,"y":206},{"s":"R3","v":7.52,"y":193},{"s":"R3","v":7.69,"y":178},{"s":"R3","v":7.8,"y":151},{"s":"R3","v":7.9,"y":130},{"s":"R3","v":7.99,"y":110},{"s":"R3","v":8.05,"y":96},{"s":"R3","v":8.14,"y":71},{"s":"R3","v":8.24,"y":56},{"s":"R3","v":8.35,"y":71},{"s":"R3","v":8.44,"y":86},{"s":"R3","v":8.52,"y":105},{"s":"R3","v":8.6,"y":130},{"s":"R3","v":8.74,"y":146},{"s":"R3","v":8.85,"y":163},{"s":"R3","v":8.97,"y":176},{"s":"R3","v":9.1,"y":188},{"s":"R3","v":9.27,"y":206},{"s":"R3","v":9.43,"y":218},{"s":"R3","v":9.6,"y":228},{"s":"R3","v":9.77,"y":231},{"s":"R3","v":9.94,"y":236},{"s":"R3","v":10.1,"y":238},{"s":"R3","v":10.27,"y":241},{"s":"R3","v":10.43,"y":236},{"s":"R3","v":10.6,"y":235},{"s":"R3","v":10.77,"y":236}
],
"comps":[
{"c":"L1a","v":-6.46,"y":794},{"c":"L1a","v":-6.06,"y":791},{"c":"L1a","v":-5.86,"y":787},{"c":"L1a","v":-5.66,"y":780},{"c":"L1a","v":-5.46,"y":787},{"c":"L1a","v":-5.26,"y":791},{"c":"L1a","v":-4.86,"y":794},
{"c":"L1b","v":-5.41,"y":794},{"c":"L1b","v":-4.97,"y":785},{"c":"L1b","v":-4.75,"y":772},{"c":"L1b","v":-4.53,"y":750},{"c":"L1b","v":-4.31,"y":772},{"c":"L1b","v":-4.09,"y":785},{"c":"L1b","v":-3.65,"y":794},
{"c":"L1c","v":-4.26,"y":794},{"c":"L1c","v":-3.86,"y":792},{"c":"L1c","v":-3.66,"y":789},{"c":"L1c","v":-3.46,"y":784},{"c":"L1c","v":-3.26,"y":789},{"c":"L1c","v":-3.06,"y":792},{"c":"L1c","v":-2.66,"y":794},
{"c":"L1d","v":-3.19,"y":794},{"c":"L1d","v":-2.69,"y":789},{"c":"L1d","v":-2.44,"y":782},{"c":"L1d","v":-2.19,"y":770},{"c":"L1d","v":-1.94,"y":782},{"c":"L1d","v":-1.69,"y":789},{"c":"L1d","v":-1.19,"y":794},
{"c":"L1e","v":-1.32,"y":794},{"c":"L1e","v":-1.02,"y":775},{"c":"L1e","v":-0.87,"y":748},{"c":"L1e","v":-0.72,"y":701},{"c":"L1e","v":-0.57,"y":748},{"c":"L1e","v":-0.42,"y":775},{"c":"L1e","v":-0.12,"y":794},
{"c":"L1f","v":-1.01,"y":794},{"c":"L1f","v":-0.71,"y":776},{"c":"L1f","v":-0.56,"y":749},{"c":"L1f","v":-0.41,"y":704},{"c":"L1f","v":-0.26,"y":749},{"c":"L1f","v":-0.11,"y":776},{"c":"L1f","v":0.19,"y":794},
{"c":"L1g","v":-0.79,"y":794},{"c":"L1g","v":-0.49,"y":778},{"c":"L1g","v":-0.34,"y":755},{"c":"L1g","v":-0.19,"y":716},{"c":"L1g","v":-0.04,"y":755},{"c":"L1g","v":0.11,"y":778},{"c":"L1g","v":0.41,"y":794},
{"c":"L1h","v":-0.46,"y":794},{"c":"L1h","v":-0.1,"y":785},{"c":"L1h","v":0.08,"y":772},{"c":"L1h","v":0.26,"y":750},{"c":"L1h","v":0.52,"y":762},{"c":"L1h","v":0.77,"y":748},{"c":"L1h","v":0.95,"y":771},{"c":"L1h","v":1.13,"y":785},{"c":"L1h","v":1.49,"y":794},
{"c":"L1i","v":0.82,"y":794},{"c":"L1i","v":1.22,"y":792},{"c":"L1i","v":1.42,"y":789},{"c":"L1i","v":1.62,"y":783},{"c":"L1i","v":1.82,"y":789},{"c":"L1i","v":2.02,"y":792},{"c":"L1i","v":2.42,"y":794},
{"c":"L1j","v":1.53,"y":794},{"c":"L1j","v":1.83,"y":776},{"c":"L1j","v":1.98,"y":750},{"c":"L1j","v":2.13,"y":705},{"c":"L1j","v":2.28,"y":750},{"c":"L1j","v":2.43,"y":776},{"c":"L1j","v":2.73,"y":794},
{"c":"L1k","v":1.78,"y":794},{"c":"L1k","v":2.08,"y":774},{"c":"L1k","v":2.23,"y":745},{"c":"L1k","v":2.38,"y":696},{"c":"L1k","v":2.53,"y":745},{"c":"L1k","v":2.68,"y":774},{"c":"L1k","v":2.98,"y":794},
{"c":"L1l","v":2.03,"y":794},{"c":"L1l","v":2.33,"y":778},{"c":"L1l","v":2.48,"y":754},{"c":"L1l","v":2.63,"y":713},{"c":"L1l","v":2.78,"y":754},{"c":"L1l","v":2.93,"y":778},{"c":"L1l","v":3.23,"y":794},
{"c":"L1m","v":2.85,"y":794},{"c":"L1m","v":3.29,"y":789},{"c":"L1m","v":3.51,"y":783},{"c":"L1m","v":3.73,"y":771},{"c":"L1m","v":3.95,"y":783},{"c":"L1m","v":4.17,"y":789},{"c":"L1m","v":4.61,"y":794},
{"c":"L1n","v":4.63,"y":794},{"c":"L1n","v":5.03,"y":787},{"c":"L1n","v":5.23,"y":777},{"c":"L1n","v":5.43,"y":760},{"c":"L1n","v":5.63,"y":777},{"c":"L1n","v":5.83,"y":787},{"c":"L1n","v":6.23,"y":794},
{"c":"L1o","v":4.8,"y":794},{"c":"L1o","v":5.2,"y":784},{"c":"L1o","v":5.4,"y":768},{"c":"L1o","v":5.6,"y":742},{"c":"L1o","v":5.8,"y":768},{"c":"L1o","v":6,"y":784},{"c":"L1o","v":6.4,"y":794},
{"c":"L2a","v":-9.1,"y":524},{"c":"L2a","v":-8.1,"y":521},{"c":"L2a","v":-7.6,"y":518},{"c":"L2a","v":-7.1,"y":521},{"c":"L2a","v":-6.1,"y":524},
{"c":"L2b","v":-6.46,"y":524},{"c":"L2b","v":-6.02,"y":518},{"c":"L2b","v":-5.8,"y":508},{"c":"L2b","v":-5.58,"y":493},{"c":"L2b","v":-5.36,"y":508},{"c":"L2b","v":-5.14,"y":518},{"c":"L2b","v":-4.7,"y":524},
{"c":"L2c","v":-5.36,"y":524},{"c":"L2c","v":-4.92,"y":519},{"c":"L2c","v":-4.7,"y":512},{"c":"L2c","v":-4.48,"y":500},{"c":"L2c","v":-4.26,"y":512},{"c":"L2c","v":-4.04,"y":519},{"c":"L2c","v":-3.6,"y":524},
{"c":"L2d","v":-4.09,"y":524},{"c":"L2d","v":-3.65,"y":520},{"c":"L2d","v":-3.43,"y":514},{"c":"L2d","v":-3.21,"y":503},{"c":"L2d","v":-2.99,"y":514},{"c":"L2d","v":-2.77,"y":520},{"c":"L2d","v":-2.33,"y":524},
{"c":"L2e","v":-2.98,"y":524},{"c":"L2e","v":-2.54,"y":521},{"c":"L2e","v":-2.32,"y":517},{"c":"L2e","v":-2.1,"y":510},{"c":"L2e","v":-1.88,"y":517},{"c":"L2e","v":-1.66,"y":521},{"c":"L2e","v":-1.22,"y":524},
{"c":"L2f","v":-1.1,"y":524},{"c":"L2f","v":-0.8,"y":499},{"c":"L2f","v":-0.65,"y":462},{"c":"L2f","v":-0.5,"y":400},{"c":"L2f","v":-0.35,"y":462},{"c":"L2f","v":-0.2,"y":499},{"c":"L2f","v":0.1,"y":524},
{"c":"L2g","v":-0.76,"y":524},{"c":"L2g","v":-0.46,"y":506},{"c":"L2g","v":-0.31,"y":478},{"c":"L2g","v":-0.16,"y":433},{"c":"L2g","v":-0.01,"y":478},{"c":"L2g","v":0.14,"y":506},{"c":"L2g","v":0.44,"y":524},
{"c":"L2h","v":-0.34,"y":524},{"c":"L2h","v":-0.04,"y":514},{"c":"L2h","v":0.11,"y":500},{"c":"L2h","v":0.26,"y":475},{"c":"L2h","v":0.43,"y":490},{"c":"L2h","v":0.6,"y":465},{"c":"L2h","v":0.75,"y":494},{"c":"L2h","v":0.9,"y":512},{"c":"L2h","v":1.2,"y":524},
{"c":"L2i","v":1.44,"y":524},{"c":"L2i","v":1.74,"y":506},{"c":"L2i","v":1.89,"y":480},{"c":"L2i","v":2.04,"y":435},{"c":"L2i","v":2.19,"y":480},{"c":"L2i","v":2.34,"y":506},{"c":"L2i","v":2.64,"y":524},
{"c":"L2j","v":1.91,"y":524},{"c":"L2j","v":2.21,"y":498},{"c":"L2j","v":2.36,"y":460},{"c":"L2j","v":2.51,"y":395},{"c":"L2j","v":2.66,"y":460},{"c":"L2j","v":2.81,"y":498},{"c":"L2j","v":3.11,"y":524},
{"c":"L2k","v":2.6,"y":524},{"c":"L2k","v":3.04,"y":520},{"c":"L2k","v":3.26,"y":515},{"c":"L2k","v":3.48,"y":506},{"c":"L2k","v":3.7,"y":515},{"c":"L2k","v":3.92,"y":520},{"c":"L2k","v":4.36,"y":524},
{"c":"L2l","v":4.55,"y":524},{"c":"L2l","v":4.99,"y":518},{"c":"L2l","v":5.21,"y":508},{"c":"L2l","v":5.43,"y":493},{"c":"L2l","v":5.65,"y":508},{"c":"L2l","v":5.87,"y":518},{"c":"L2l","v":6.31,"y":524},
{"c":"L2m","v":6.3,"y":524},{"c":"L2m","v":7.3,"y":521},{"c":"L2m","v":7.8,"y":518},{"c":"L2m","v":8.3,"y":521},{"c":"L2m","v":9.3,"y":524},
{"c":"L2n","v":0.2,"y":524},{"c":"L2n","v":0.6,"y":521},{"c":"L2n","v":1,"y":518},{"c":"L2n","v":1.4,"y":521},{"c":"L2n","v":1.8,"y":524},
{"c":"L2o","v":-2.1,"y":524},{"c":"L2o","v":-1.5,"y":520},{"c":"L2o","v":-1.2,"y":517},{"c":"L2o","v":-0.9,"y":520},{"c":"L2o","v":-0.3,"y":524},
{"c":"L3a","v":-9.18,"y":257},{"c":"L3a","v":-8.48,"y":254},{"c":"L3a","v":-8.13,"y":249},{"c":"L3a","v":-7.78,"y":240},{"c":"L3a","v":-7.43,"y":249},{"c":"L3a","v":-7.08,"y":254},{"c":"L3a","v":-6.38,"y":257},
{"c":"L3b","v":-6.41,"y":257},{"c":"L3b","v":-5.91,"y":252},{"c":"L3b","v":-5.66,"y":247},{"c":"L3b","v":-5.41,"y":252},{"c":"L3b","v":-4.91,"y":257},
{"c":"L3c","v":-5.48,"y":257},{"c":"L3c","v":-4.98,"y":254},{"c":"L3c","v":-4.73,"y":249},{"c":"L3c","v":-4.48,"y":241},{"c":"L3c","v":-4.23,"y":249},{"c":"L3c","v":-3.98,"y":254},{"c":"L3c","v":-3.48,"y":257},
{"c":"L3d","v":-3.95,"y":257},{"c":"L3d","v":-3.45,"y":254},{"c":"L3d","v":-3.2,"y":251},{"c":"L3d","v":-2.95,"y":254},{"c":"L3d","v":-2.45,"y":257},
{"c":"L3e","v":-3.15,"y":257},{"c":"L3e","v":-2.65,"y":255},{"c":"L3e","v":-2.4,"y":252},{"c":"L3e","v":-2.15,"y":255},{"c":"L3e","v":-1.65,"y":257},
{"c":"L3f","v":-1.03,"y":257},{"c":"L3f","v":-0.75,"y":231},{"c":"L3f","v":-0.61,"y":192},{"c":"L3f","v":-0.47,"y":126},{"c":"L3f","v":-0.33,"y":192},{"c":"L3f","v":-0.19,"y":231},{"c":"L3f","v":0.09,"y":257},
{"c":"L3g","v":-0.88,"y":257},{"c":"L3g","v":-0.52,"y":240},{"c":"L3g","v":-0.34,"y":215},{"c":"L3g","v":-0.16,"y":173},{"c":"L3g","v":0.25,"y":200},{"c":"L3g","v":0.6,"y":175},{"c":"L3g","v":0.78,"y":216},{"c":"L3g","v":0.96,"y":240},{"c":"L3g","v":1.32,"y":257},
{"c":"L3h","v":1.44,"y":257},{"c":"L3h","v":1.74,"y":244},{"c":"L3h","v":1.89,"y":224},{"c":"L3h","v":2.04,"y":191},{"c":"L3h","v":2.19,"y":224},{"c":"L3h","v":2.34,"y":244},{"c":"L3h","v":2.64,"y":257},
{"c":"L3i","v":1.9,"y":257},{"c":"L3i","v":2.18,"y":236},{"c":"L3i","v":2.32,"y":204},{"c":"L3i","v":2.46,"y":150},{"c":"L3i","v":2.6,"y":204},{"c":"L3i","v":2.74,"y":236},{"c":"L3i","v":3.02,"y":257},
{"c":"L3j","v":0.61,"y":257},{"c":"L3j","v":1.11,"y":254},{"c":"L3j","v":1.36,"y":250},{"c":"L3j","v":1.61,"y":254},{"c":"L3j","v":2.11,"y":257},
{"c":"L3k","v":3.75,"y":257},{"c":"L3k","v":4.25,"y":254},{"c":"L3k","v":4.5,"y":249},{"c":"L3k","v":4.75,"y":241},{"c":"L3k","v":5,"y":249},{"c":"L3k","v":5.25,"y":254},{"c":"L3k","v":5.75,"y":257},
{"c":"L3l","v":4.68,"y":257},{"c":"L3l","v":5.18,"y":254},{"c":"L3l","v":5.43,"y":251},{"c":"L3l","v":5.68,"y":254},{"c":"L3l","v":6.18,"y":257},
{"c":"L3m","v":6.74,"y":257},{"c":"L3m","v":7.44,"y":254},{"c":"L3m","v":7.79,"y":249},{"c":"L3m","v":8.14,"y":240},{"c":"L3m","v":8.49,"y":249},{"c":"L3m","v":8.84,"y":254},{"c":"L3m","v":9.54,"y":257},
{"c":"L3n","v":-1.85,"y":257},{"c":"L3n","v":-1.35,"y":254},{"c":"L3n","v":-1.1,"y":250},{"c":"L3n","v":-0.85,"y":254},{"c":"L3n","v":-0.35,"y":257},
{"c":"R1a","v":-8.81,"y":792},{"c":"R1a","v":-8.51,"y":786},{"c":"R1a","v":-8.36,"y":776},{"c":"R1a","v":-8.21,"y":761},{"c":"R1a","v":-8.06,"y":776},{"c":"R1a","v":-7.91,"y":786},{"c":"R1a","v":-7.61,"y":792},
{"c":"R1b","v":-8.51,"y":792},{"c":"R1b","v":-8.21,"y":785},{"c":"R1b","v":-8.06,"y":775},{"c":"R1b","v":-7.91,"y":758},{"c":"R1b","v":-7.76,"y":775},{"c":"R1b","v":-7.61,"y":785},{"c":"R1b","v":-7.31,"y":792},
{"c":"R1c","v":-6.8,"y":792},{"c":"R1c","v":-6.3,"y":788},{"c":"R1c","v":-6.05,"y":782},{"c":"R1c","v":-5.8,"y":773},{"c":"R1c","v":-5.55,"y":782},{"c":"R1c","v":-5.3,"y":788},{"c":"R1c","v":-4.8,"y":792},
{"c":"R1d","v":-5.28,"y":792},{"c":"R1d","v":-5,"y":765},{"c":"R1d","v":-4.86,"y":724},{"c":"R1d","v":-4.72,"y":656},{"c":"R1d","v":-4.58,"y":724},{"c":"R1d","v":-4.44,"y":765},{"c":"R1d","v":-4.16,"y":792},
{"c":"R1e","v":-5.27,"y":792},{"c":"R1e","v":-4.87,"y":788},{"c":"R1e","v":-4.67,"y":782},{"c":"R1e","v":-4.47,"y":773},{"c":"R1e","v":-4.27,"y":782},{"c":"R1e","v":-4.07,"y":788},{"c":"R1e","v":-3.67,"y":792},
{"c":"R1f","v":-4.27,"y":792},{"c":"R1f","v":-3.87,"y":786},{"c":"R1f","v":-3.67,"y":777},{"c":"R1f","v":-3.47,"y":763},{"c":"R1f","v":-3.27,"y":777},{"c":"R1f","v":-3.07,"y":786},{"c":"R1f","v":-2.67,"y":792},
{"c":"R1g","v":-2.95,"y":792},{"c":"R1g","v":-2.65,"y":780},{"c":"R1g","v":-2.5,"y":762},{"c":"R1g","v":-2.35,"y":733},{"c":"R1g","v":-2.2,"y":762},{"c":"R1g","v":-2.05,"y":780},{"c":"R1g","v":-1.75,"y":792},
{"c":"R1h","v":-2.67,"y":792},{"c":"R1h","v":-2.07,"y":787},{"c":"R1h","v":-1.77,"y":778},{"c":"R1h","v":-1.47,"y":765},{"c":"R1h","v":-1.17,"y":778},{"c":"R1h","v":-0.87,"y":787},{"c":"R1h","v":-0.27,"y":792},
{"c":"R1i","v":-2,"y":792},{"c":"R1i","v":-1.19,"y":775},{"c":"R1i","v":-0.79,"y":749},{"c":"R1i","v":-0.39,"y":706},{"c":"R1i","v":-0.1,"y":714},{"c":"R1i","v":0.2,"y":730},{"c":"R1i","v":0.44,"y":736},{"c":"R1i","v":0.6,"y":728},{"c":"R1i","v":0.78,"y":720},{"c":"R1i","v":1.15,"y":756},{"c":"R1i","v":1.55,"y":778},{"c":"R1i","v":2.4,"y":792},
{"c":"R1j","v":-1.14,"y":792},{"c":"R1j","v":-0.64,"y":781},{"c":"R1j","v":-0.39,"y":764},{"c":"R1j","v":-0.14,"y":736},{"c":"R1j","v":0.11,"y":764},{"c":"R1j","v":0.36,"y":781},{"c":"R1j","v":0.86,"y":792},
{"c":"R1k","v":0.81,"y":792},{"c":"R1k","v":1.21,"y":786},{"c":"R1k","v":1.41,"y":777},{"c":"R1k","v":1.61,"y":763},{"c":"R1k","v":1.81,"y":777},{"c":"R1k","v":2.01,"y":786},{"c":"R1k","v":2.41,"y":792},
{"c":"R1l","v":0.59,"y":792},{"c":"R1l","v":1.39,"y":776},{"c":"R1l","v":1.79,"y":751},{"c":"R1l","v":2.19,"y":710},{"c":"R1l","v":2.59,"y":751},{"c":"R1l","v":2.99,"y":776},{"c":"R1l","v":3.79,"y":792},
{"c":"R1m","v":1.64,"y":792},{"c":"R1m","v":2.04,"y":783},{"c":"R1m","v":2.24,"y":769},{"c":"R1m","v":2.44,"y":746},{"c":"R1m","v":2.64,"y":769},{"c":"R1m","v":2.84,"y":783},{"c":"R1m","v":3.24,"y":792},
{"c":"R1n","v":3.17,"y":792},{"c":"R1n","v":3.47,"y":780},{"c":"R1n","v":3.62,"y":762},{"c":"R1n","v":3.77,"y":733},{"c":"R1n","v":3.92,"y":762},{"c":"R1n","v":4.07,"y":780},{"c":"R1n","v":4.37,"y":792},
{"c":"R1o","v":3.47,"y":792},{"c":"R1o","v":3.87,"y":781},{"c":"R1o","v":4.07,"y":765},{"c":"R1o","v":4.27,"y":738},{"c":"R1o","v":4.47,"y":765},{"c":"R1o","v":4.67,"y":781},{"c":"R1o","v":5.07,"y":792},
{"c":"R1p","v":4.22,"y":792},{"c":"R1p","v":4.62,"y":788},{"c":"R1p","v":4.82,"y":782},{"c":"R1p","v":5.02,"y":771},{"c":"R1p","v":5.22,"y":782},{"c":"R1p","v":5.42,"y":788},{"c":"R1p","v":5.82,"y":792},
{"c":"R1q","v":5.29,"y":792},{"c":"R1q","v":5.57,"y":766},{"c":"R1q","v":5.71,"y":728},{"c":"R1q","v":5.85,"y":663},{"c":"R1q","v":5.99,"y":728},{"c":"R1q","v":6.13,"y":766},{"c":"R1q","v":6.41,"y":792},
{"c":"R1r","v":7.42,"y":792},{"c":"R1r","v":7.72,"y":786},{"c":"R1r","v":7.87,"y":776},{"c":"R1r","v":8.02,"y":760},{"c":"R1r","v":8.17,"y":776},{"c":"R1r","v":8.32,"y":786},{"c":"R1r","v":8.62,"y":792},
{"c":"R1s","v":7.75,"y":792},{"c":"R1s","v":8.05,"y":786},{"c":"R1s","v":8.2,"y":778},{"c":"R1s","v":8.35,"y":763},{"c":"R1s","v":8.5,"y":778},{"c":"R1s","v":8.65,"y":786},{"c":"R1s","v":8.95,"y":792},
{"c":"R1t","v":-1.9,"y":792},{"c":"R1t","v":-1.4,"y":787},{"c":"R1t","v":-1.14,"y":783},{"c":"R1t","v":-0.9,"y":787},{"c":"R1t","v":-0.4,"y":792},
{"c":"R1u","v":4.6,"y":792},{"c":"R1u","v":5.1,"y":787},{"c":"R1u","v":5.36,"y":783},{"c":"R1u","v":5.6,"y":787},{"c":"R1u","v":6.1,"y":792},
{"c":"R2a","v":-8.65,"y":523},{"c":"R2a","v":-8.35,"y":513},{"c":"R2a","v":-8.2,"y":498},{"c":"R2a","v":-8.05,"y":473},{"c":"R2a","v":-7.9,"y":498},{"c":"R2a","v":-7.75,"y":513},{"c":"R2a","v":-7.45,"y":523},
{"c":"R2b","v":-8.35,"y":523},{"c":"R2b","v":-7.95,"y":518},{"c":"R2b","v":-7.75,"y":510},{"c":"R2b","v":-7.55,"y":496},{"c":"R2b","v":-7.35,"y":510},{"c":"R2b","v":-7.15,"y":518},{"c":"R2b","v":-6.75,"y":523},
{"c":"R2c","v":-6.6,"y":523},{"c":"R2c","v":-6.2,"y":513},{"c":"R2c","v":-6,"y":499},{"c":"R2c","v":-5.8,"y":475},{"c":"R2c","v":-5.6,"y":499},{"c":"R2c","v":-5.4,"y":513},{"c":"R2c","v":-5,"y":523},
{"c":"R2d","v":-5.35,"y":523},{"c":"R2d","v":-5.05,"y":508},{"c":"R2d","v":-4.9,"y":487},{"c":"R2d","v":-4.75,"y":450},{"c":"R2d","v":-4.6,"y":487},{"c":"R2d","v":-4.45,"y":508},{"c":"R2d","v":-4.15,"y":523},
{"c":"R2e","v":-5,"y":523},{"c":"R2e","v":-4.6,"y":516},{"c":"R2e","v":-4.4,"y":510},{"c":"R2e","v":-4.2,"y":516},{"c":"R2e","v":-3.8,"y":523},
{"c":"R2f","v":-4.5,"y":523},{"c":"R2f","v":-4.1,"y":515},{"c":"R2f","v":-3.9,"y":506},{"c":"R2f","v":-3.7,"y":515},{"c":"R2f","v":-3.3,"y":523},
{"c":"R2g","v":-4.27,"y":523},{"c":"R2g","v":-3.87,"y":517},{"c":"R2g","v":-3.67,"y":508},{"c":"R2g","v":-3.47,"y":493},{"c":"R2g","v":-3.27,"y":508},{"c":"R2g","v":-3.07,"y":517},{"c":"R2g","v":-2.67,"y":523},
{"c":"R2h","v":-2.99,"y":523},{"c":"R2h","v":-2.69,"y":513},{"c":"R2h","v":-2.54,"y":499},{"c":"R2h","v":-2.39,"y":475},{"c":"R2h","v":-2.24,"y":499},{"c":"R2h","v":-2.09,"y":513},{"c":"R2h","v":-1.79,"y":523},
{"c":"R2i","v":-3,"y":523},{"c":"R2i","v":-2.3,"y":512},{"c":"R2i","v":-1.9,"y":498},{"c":"R2i","v":-1.64,"y":496},{"c":"R2i","v":-1.3,"y":497},{"c":"R2i","v":-0.9,"y":510},{"c":"R2i","v":-0.3,"y":523},
{"c":"R2j","v":-1.55,"y":523},{"c":"R2j","v":-1.05,"y":507},{"c":"R2j","v":-0.8,"y":480},{"c":"R2j","v":-0.55,"y":435},{"c":"R2j","v":-0.3,"y":450},{"c":"R2j","v":-0.05,"y":436},{"c":"R2j","v":0.2,"y":480},{"c":"R2j","v":0.45,"y":507},{"c":"R2j","v":0.95,"y":523},
{"c":"R2k","v":-1.22,"y":523},{"c":"R2k","v":-0.72,"y":509},{"c":"R2k","v":-0.47,"y":488},{"c":"R2k","v":-0.22,"y":453},{"c":"R2k","v":0.03,"y":488},{"c":"R2k","v":0.28,"y":509},{"c":"R2k","v":0.78,"y":523},
{"c":"R2l","v":-0.22,"y":523},{"c":"R2l","v":0.28,"y":516},{"c":"R2l","v":0.53,"y":507},{"c":"R2l","v":0.78,"y":490},{"c":"R2l","v":1.03,"y":507},{"c":"R2l","v":1.28,"y":516},{"c":"R2l","v":1.78,"y":523},
{"c":"R2m","v":0.73,"y":523},{"c":"R2m","v":1.13,"y":518},{"c":"R2m","v":1.33,"y":512},{"c":"R2m","v":1.53,"y":500},{"c":"R2m","v":1.73,"y":512},{"c":"R2m","v":1.93,"y":518},{"c":"R2m","v":2.33,"y":523},
{"c":"R2n","v":0.76,"y":523},{"c":"R2n","v":1.56,"y":503},{"c":"R2n","v":1.96,"y":473},{"c":"R2n","v":2.36,"y":423},{"c":"R2n","v":2.76,"y":473},{"c":"R2n","v":3.16,"y":503},{"c":"R2n","v":3.96,"y":523},
{"c":"R2o","v":2.06,"y":523},{"c":"R2o","v":2.46,"y":515},{"c":"R2o","v":2.66,"y":502},{"c":"R2o","v":2.86,"y":481},{"c":"R2o","v":3.06,"y":502},{"c":"R2o","v":3.26,"y":515},{"c":"R2o","v":3.66,"y":523},
{"c":"R2p","v":3.26,"y":523},{"c":"R2p","v":3.56,"y":513},{"c":"R2p","v":3.71,"y":499},{"c":"R2p","v":3.86,"y":475},{"c":"R2p","v":4.01,"y":499},{"c":"R2p","v":4.16,"y":513},{"c":"R2p","v":4.46,"y":523},
{"c":"R2q","v":3.7,"y":523},{"c":"R2q","v":4.1,"y":515},{"c":"R2q","v":4.3,"y":507},{"c":"R2q","v":4.5,"y":515},{"c":"R2q","v":4.9,"y":523},
{"c":"R2r","v":4.64,"y":523},{"c":"R2r","v":5.04,"y":515},{"c":"R2r","v":5.24,"y":502},{"c":"R2r","v":5.44,"y":481},{"c":"R2r","v":5.64,"y":502},{"c":"R2r","v":5.84,"y":515},{"c":"R2r","v":6.24,"y":523},
{"c":"R2s","v":5.34,"y":523},{"c":"R2s","v":5.64,"y":509},{"c":"R2s","v":5.79,"y":487},{"c":"R2s","v":5.94,"y":451},{"c":"R2s","v":6.09,"y":487},{"c":"R2s","v":6.24,"y":509},{"c":"R2s","v":6.54,"y":523},
{"c":"R2t","v":7.5,"y":523},{"c":"R2t","v":7.8,"y":513},{"c":"R2t","v":7.95,"y":498},{"c":"R2t","v":8.1,"y":473},{"c":"R2t","v":8.25,"y":498},{"c":"R2t","v":8.4,"y":513},{"c":"R2t","v":8.7,"y":523},
{"c":"R2u","v":7.72,"y":523},{"c":"R2u","v":8.12,"y":518},{"c":"R2u","v":8.32,"y":510},{"c":"R2u","v":8.52,"y":496},{"c":"R2u","v":8.72,"y":510},{"c":"R2u","v":8.92,"y":518},{"c":"R2u","v":9.32,"y":523},
{"c":"R2v","v":8.45,"y":523},{"c":"R2v","v":8.7,"y":518},{"c":"R2v","v":8.85,"y":513},{"c":"R2v","v":9,"y":518},{"c":"R2v","v":9.25,"y":523},
{"c":"R3a","v":-8.97,"y":255},{"c":"R3a","v":-8.67,"y":245},{"c":"R3a","v":-8.52,"y":230},{"c":"R3a","v":-8.37,"y":205},{"c":"R3a","v":-8.22,"y":230},{"c":"R3a","v":-8.07,"y":245},{"c":"R3a","v":-7.77,"y":255},
{"c":"R3b","v":-8.56,"y":255},{"c":"R3b","v":-8.26,"y":229},{"c":"R3b","v":-8.11,"y":189},{"c":"R3b","v":-7.96,"y":123},{"c":"R3b","v":-7.81,"y":189},{"c":"R3b","v":-7.66,"y":229},{"c":"R3b","v":-7.36,"y":255},
{"c":"R3c","v":-8.35,"y":255},{"c":"R3c","v":-7.95,"y":247},{"c":"R3c","v":-7.75,"y":235},{"c":"R3c","v":-7.55,"y":215},{"c":"R3c","v":-7.35,"y":235},{"c":"R3c","v":-7.15,"y":247},{"c":"R3c","v":-6.75,"y":255},
{"c":"R3d","v":-6.34,"y":255},{"c":"R3d","v":-5.94,"y":248},{"c":"R3d","v":-5.74,"y":241},{"c":"R3d","v":-5.54,"y":248},{"c":"R3d","v":-5.14,"y":255},
{"c":"R3e","v":-5.32,"y":255},{"c":"R3e","v":-5.02,"y":245},{"c":"R3e","v":-4.87,"y":229},{"c":"R3e","v":-4.72,"y":203},{"c":"R3e","v":-4.57,"y":229},{"c":"R3e","v":-4.42,"y":245},{"c":"R3e","v":-4.12,"y":255},
{"c":"R3f","v":-5.15,"y":255},{"c":"R3f","v":-4.75,"y":238},{"c":"R3f","v":-4.55,"y":213},{"c":"R3f","v":-4.35,"y":170},{"c":"R3f","v":-4.15,"y":213},{"c":"R3f","v":-3.95,"y":238},{"c":"R3f","v":-3.55,"y":255},
{"c":"R3g","v":-4.93,"y":255},{"c":"R3g","v":-4.53,"y":250},{"c":"R3g","v":-4.33,"y":243},{"c":"R3g","v":-4.13,"y":230},{"c":"R3g","v":-3.93,"y":243},{"c":"R3g","v":-3.73,"y":250},{"c":"R3g","v":-3.33,"y":255},
{"c":"R3h","v":-4.07,"y":255},{"c":"R3h","v":-3.67,"y":249},{"c":"R3h","v":-3.47,"y":243},{"c":"R3h","v":-3.27,"y":249},{"c":"R3h","v":-2.87,"y":255},
{"c":"R3i","v":-3.19,"y":255},{"c":"R3i","v":-2.79,"y":248},{"c":"R3i","v":-2.59,"y":238},{"c":"R3i","v":-2.39,"y":221},{"c":"R3i","v":-2.19,"y":238},{"c":"R3i","v":-1.99,"y":248},{"c":"R3i","v":-1.59,"y":255},
{"c":"R3j","v":-1.89,"y":255},{"c":"R3j","v":-1.39,"y":247},{"c":"R3j","v":-1.14,"y":234},{"c":"R3j","v":-0.89,"y":213},{"c":"R3j","v":-0.64,"y":234},{"c":"R3j","v":-0.39,"y":247},{"c":"R3j","v":0.11,"y":255},
{"c":"R3k","v":-2,"y":255},{"c":"R3k","v":-1.4,"y":245},{"c":"R3k","v":-1.2,"y":235},{"c":"R3k","v":-0.75,"y":232},{"c":"R3k","v":-0.68,"y":200},{"c":"R3k","v":-0.6,"y":176},{"c":"R3k","v":-0.4,"y":178},{"c":"R3k","v":-0.22,"y":171},{"c":"R3k","v":-0.05,"y":200},{"c":"R3k","v":0.15,"y":230},{"c":"R3k","v":0.5,"y":247},{"c":"R3k","v":1.1,"y":255},
{"c":"R3l","v":0,"y":255},{"c":"R3l","v":0.4,"y":238},{"c":"R3l","v":0.6,"y":222},{"c":"R3l","v":0.8,"y":214},{"c":"R3l","v":0.95,"y":195},{"c":"R3l","v":1.03,"y":181},{"c":"R3l","v":1.15,"y":200},{"c":"R3l","v":1.3,"y":226},{"c":"R3l","v":1.55,"y":244},{"c":"R3l","v":2.05,"y":255},
{"c":"R3m","v":0.81,"y":255},{"c":"R3m","v":1.21,"y":248},{"c":"R3m","v":1.41,"y":238},{"c":"R3m","v":1.61,"y":221},{"c":"R3m","v":1.81,"y":238},{"c":"R3m","v":2.01,"y":248},{"c":"R3m","v":2.41,"y":255},
{"c":"R3n","v":1.16,"y":255},{"c":"R3n","v":1.76,"y":233},{"c":"R3n","v":2,"y":200},{"c":"R3n","v":2.15,"y":160},{"c":"R3n","v":2.36,"y":146},{"c":"R3n","v":2.55,"y":160},{"c":"R3n","v":2.7,"y":200},{"c":"R3n","v":2.96,"y":233},{"c":"R3n","v":3.56,"y":255},
{"c":"R3o","v":2.14,"y":255},{"c":"R3o","v":2.54,"y":249},{"c":"R3o","v":2.74,"y":239},{"c":"R3o","v":2.94,"y":223},{"c":"R3o","v":3.14,"y":239},{"c":"R3o","v":3.34,"y":249},{"c":"R3o","v":3.74,"y":255},
{"c":"R3p","v":3.47,"y":255},{"c":"R3p","v":3.87,"y":242},{"c":"R3p","v":4.07,"y":223},{"c":"R3p","v":4.27,"y":191},{"c":"R3p","v":4.47,"y":223},{"c":"R3p","v":4.67,"y":242},{"c":"R3p","v":5.07,"y":255},
{"c":"R3q","v":4.42,"y":255},{"c":"R3q","v":4.72,"y":238},{"c":"R3q","v":4.87,"y":212},{"c":"R3q","v":5.02,"y":168},{"c":"R3q","v":5.17,"y":212},{"c":"R3q","v":5.32,"y":238},{"c":"R3q","v":5.62,"y":255},
{"c":"R3r","v":4.59,"y":255},{"c":"R3r","v":4.89,"y":249},{"c":"R3r","v":5.04,"y":239},{"c":"R3r","v":5.19,"y":223},{"c":"R3r","v":5.34,"y":239},{"c":"R3r","v":5.49,"y":249},{"c":"R3r","v":5.79,"y":255},
{"c":"R3s","v":5.06,"y":255},{"c":"R3s","v":5.46,"y":245},{"c":"R3s","v":5.66,"y":229},{"c":"R3s","v":5.86,"y":203},{"c":"R3s","v":6.06,"y":229},{"c":"R3s","v":6.26,"y":245},{"c":"R3s","v":6.66,"y":255},
{"c":"R3t","v":7.25,"y":255},{"c":"R3t","v":7.55,"y":247},{"c":"R3t","v":7.7,"y":234},{"c":"R3t","v":7.85,"y":213},{"c":"R3t","v":8,"y":234},{"c":"R3t","v":8.15,"y":247},{"c":"R3t","v":8.45,"y":255},
{"c":"R3u","v":7.64,"y":255},{"c":"R3u","v":7.94,"y":228},{"c":"R3u","v":8.09,"y":188},{"c":"R3u","v":8.24,"y":120},{"c":"R3u","v":8.39,"y":188},{"c":"R3u","v":8.54,"y":228},{"c":"R3u","v":8.84,"y":255},
{"c":"R3v","v":7.92,"y":255},{"c":"R3v","v":8.22,"y":245},{"c":"R3v","v":8.37,"y":230},{"c":"R3v","v":8.52,"y":205},{"c":"R3v","v":8.67,"y":230},{"c":"R3v","v":8.82,"y":245},{"c":"R3v","v":9.12,"y":255},
{"c":"R3w","v":8.25,"y":255},{"c":"R3w","v":8.55,"y":245},{"c":"R3w","v":8.7,"y":230},{"c":"R3w","v":8.85,"y":205},{"c":"R3w","v":9,"y":230},{"c":"R3w","v":9.15,"y":245},{"c":"R3w","v":9.45,"y":255}
]
},
"hconcat":[
{
"width":588,"height":810,
"layer":[
{"data":{"name":"base"},"transform":[{"filter":"indexof(datum.s,'L')==0"}],
 "mark":{"type":"line","color":"black","strokeWidth":1.6},
 "encoding":{
  "x":{"field":"v","type":"quantitative","scale":{"domain":[-13,13],"nice":false,"zero":false},
   "axis":{"orient":"bottom","values":[-10,-5,0,5,10],"tickSize":12,"tickWidth":1.5,"tickColor":"black","labelFontSize":25,"labelFont":"Liberation Sans","labelFontWeight":"bold","labelColor":"black","labelPadding":-2,"labelExpr":"''+datum.value","labelFlush":false,"labelOverlap":false,"domain":true,"domainColor":"black","domainWidth":1.5,"title":null,"grid":false}},
  "y":{"field":"y","type":"quantitative","scale":{"domain":[0,810],"nice":false,"zero":false},
   "axis":{"orient":"left","values":[793,751,710,666,625,583,525,474,423,372,321,258,233,207,180,155,129,103,77,51,26],"tickSize":-5,"tickColor":"black","tickWidth":1,"labels":false,"domain":true,"domainColor":"black","domainWidth":1.5,"grid":false,
    "title":"Trasmissão relativa","titleFontSize":53,"titleFont":"Liberation Sans","titleFontWeight":"bold","titleColor":"black","titleX":-32,"titleY":428,"titleAngle":270,"titleAlign":"center","titleBaseline":"middle"}},
  "detail":{"field":"s"}}},
{"data":{"name":"comps"},"transform":[{"filter":"indexof(datum.c,'L')==0"}],
 "mark":{"type":"line","color":"black","strokeWidth":0.8},
 "encoding":{
  "x":{"field":"v","type":"quantitative","scale":{"domain":[-13,13],"nice":false,"zero":false},
   "axis":{"orient":"bottom","values":[-12.5,-7.5,-2.5,2.5,7.5,12.5],"tickSize":7,"tickWidth":1.5,"tickColor":"black","labels":false,"domain":false,"title":null,"grid":false}},
  "y":{"field":"y","type":"quantitative","scale":{"domain":[0,810],"nice":false,"zero":false},
   "axis":{"orient":"right","values":[793,751,710,666,625,583,525,474,423,372,321,258,233,207,180,155,129,103,77,51,26],"tickSize":-5,"tickColor":"black","labels":false,"domain":true,"domainColor":"black","domainWidth":1.5,"title":null,"grid":false}},
  "detail":{"field":"c"}}},
{"data":{"name":"dots"},"transform":[{"filter":"indexof(datum.s,'L')==0"}],
 "mark":{"type":"line","color":"black","strokeWidth":1},
 "encoding":{
  "x":{"field":"v","type":"quantitative","scale":{"domain":[-13,13],"nice":false,"zero":false},
   "axis":{"orient":"top","values":[-12.5,-10,-7.5,-5,-2.5,0,2.5,5,7.5,10,12.5],"tickSize":-4,"tickColor":"black","labels":false,"domain":true,"domainColor":"black","domainWidth":1.5,"title":null,"grid":false}},
  "y":{"field":"y","type":"quantitative","scale":{"domain":[0,810],"nice":false,"zero":false},"axis":null},
  "detail":{"field":"s"}}},
{"data":{"name":"dots"},"transform":[{"filter":"indexof(datum.s,'L')==0"}],
 "mark":{"type":"circle","color":"black","size":82,"opacity":1},
 "encoding":{
  "x":{"field":"v","type":"quantitative","scale":{"domain":[-13,13],"nice":false,"zero":false},"axis":null},
  "y":{"field":"y","type":"quantitative","scale":{"domain":[0,810],"nice":false,"zero":false},"axis":null}}},
{"data":{"name":"labels"},"transform":[{"filter":"datum.p=='L' && datum.k=='n'"}],
 "mark":{"type":"text","align":"left","baseline":"alphabetic","fontSize":19,"fontWeight":"bold","font":"Liberation Sans","color":"black"},
 "encoding":{
  "x":{"field":"v","type":"quantitative","scale":{"domain":[-13,13],"nice":false,"zero":false},"axis":null},
  "y":{"field":"y","type":"quantitative","scale":{"domain":[0,810],"nice":false,"zero":false},"axis":null},
  "text":{"field":"t"}}},
{"data":{"name":"labels"},"transform":[{"filter":"datum.p=='L' && datum.k=='t'"}],
 "mark":{"type":"text","align":"left","baseline":"alphabetic","fontSize":29,"fontWeight":"bold","font":"Liberation Sans","color":"black"},
 "encoding":{
  "x":{"field":"v","type":"quantitative","scale":{"domain":[-13,13],"nice":false,"zero":false},"axis":null},
  "y":{"field":"y","type":"quantitative","scale":{"domain":[0,810],"nice":false,"zero":false},"axis":null},
  "text":{"field":"t"}}}
],
"resolve":{"axis":{"x":"independent","y":"independent"}}
},
{
"width":578,"height":810,
"layer":[
{"data":{"name":"base"},"transform":[{"filter":"indexof(datum.s,'R')==0"}],
 "mark":{"type":"line","color":"black","strokeWidth":1.6},
 "encoding":{
  "x":{"field":"v","type":"quantitative","scale":{"domain":[-13,12.58],"nice":false,"zero":false},
   "axis":{"orient":"bottom","values":[-10,-5,0,5,10],"tickSize":12,"tickWidth":1.5,"tickColor":"black","labelFontSize":25,"labelFont":"Liberation Sans","labelFontWeight":"bold","labelColor":"black","labelPadding":-2,"labelExpr":"''+datum.value","labelFlush":false,"labelOverlap":false,"domain":true,"domainColor":"black","domainWidth":1.5,"title":null,"grid":false}},
  "y":{"field":"y","type":"quantitative","scale":{"domain":[0,810],"nice":false,"zero":false},
   "axis":{"orient":"left","values":[793,751,710,666,625,583,525,474,423,372,321,258,233,207,180,155,129,103,77,51,26],"tickSize":-5,"tickColor":"black","labels":false,"domain":true,"domainColor":"black","domainWidth":1.5,"title":null,"grid":false}},
  "detail":{"field":"s"}}},
{"data":{"name":"comps"},"transform":[{"filter":"indexof(datum.c,'R')==0"}],
 "mark":{"type":"line","color":"black","strokeWidth":0.8},
 "encoding":{
  "x":{"field":"v","type":"quantitative","scale":{"domain":[-13,12.58],"nice":false,"zero":false},
   "axis":{"orient":"bottom","values":[-12.5,-7.5,-2.5,2.5,7.5,12.5],"tickSize":7,"tickWidth":1.5,"tickColor":"black","labels":false,"domain":false,"title":null,"grid":false}},
  "y":{"field":"y","type":"quantitative","scale":{"domain":[0,810],"nice":false,"zero":false},"axis":null},
  "detail":{"field":"c"}}},
{"data":{"name":"dots"},"transform":[{"filter":"indexof(datum.s,'R')==0"}],
 "mark":{"type":"line","color":"black","strokeWidth":1},
 "encoding":{
  "x":{"field":"v","type":"quantitative","scale":{"domain":[-13,12.58],"nice":false,"zero":false},
   "axis":{"orient":"top","values":[-12.5,-10,-7.5,-5,-2.5,0,2.5,5,7.5,10,12.5],"tickSize":-4,"tickColor":"black","labels":false,"domain":true,"domainColor":"black","domainWidth":1.5,"title":null,"grid":false}},
  "y":{"field":"y","type":"quantitative","scale":{"domain":[0,810],"nice":false,"zero":false},"axis":null},
  "detail":{"field":"s"}}},
{"data":{"name":"dots"},"transform":[{"filter":"indexof(datum.s,'R')==0"}],
 "mark":{"type":"circle","color":"black","size":82,"opacity":1},
 "encoding":{
  "x":{"field":"v","type":"quantitative","scale":{"domain":[-13,12.58],"nice":false,"zero":false},"axis":null},
  "y":{"field":"y","type":"quantitative","scale":{"domain":[0,810],"nice":false,"zero":false},"axis":null}}},
{"data":{"name":"labels"},"transform":[{"filter":"datum.p=='R'"}],
 "mark":{"type":"text","align":"left","baseline":"alphabetic","fontSize":29,"fontWeight":"bold","font":"Liberation Sans","color":"black"},
 "encoding":{
  "x":{"field":"v","type":"quantitative","scale":{"domain":[-13,12.58],"nice":false,"zero":false},"axis":null},
  "y":{"field":"y","type":"quantitative","scale":{"domain":[0,810],"nice":false,"zero":false},"axis":null},
  "text":{"field":"t"}}}
],
"resolve":{"axis":{"x":"independent","y":"independent"}}
}
]
}
